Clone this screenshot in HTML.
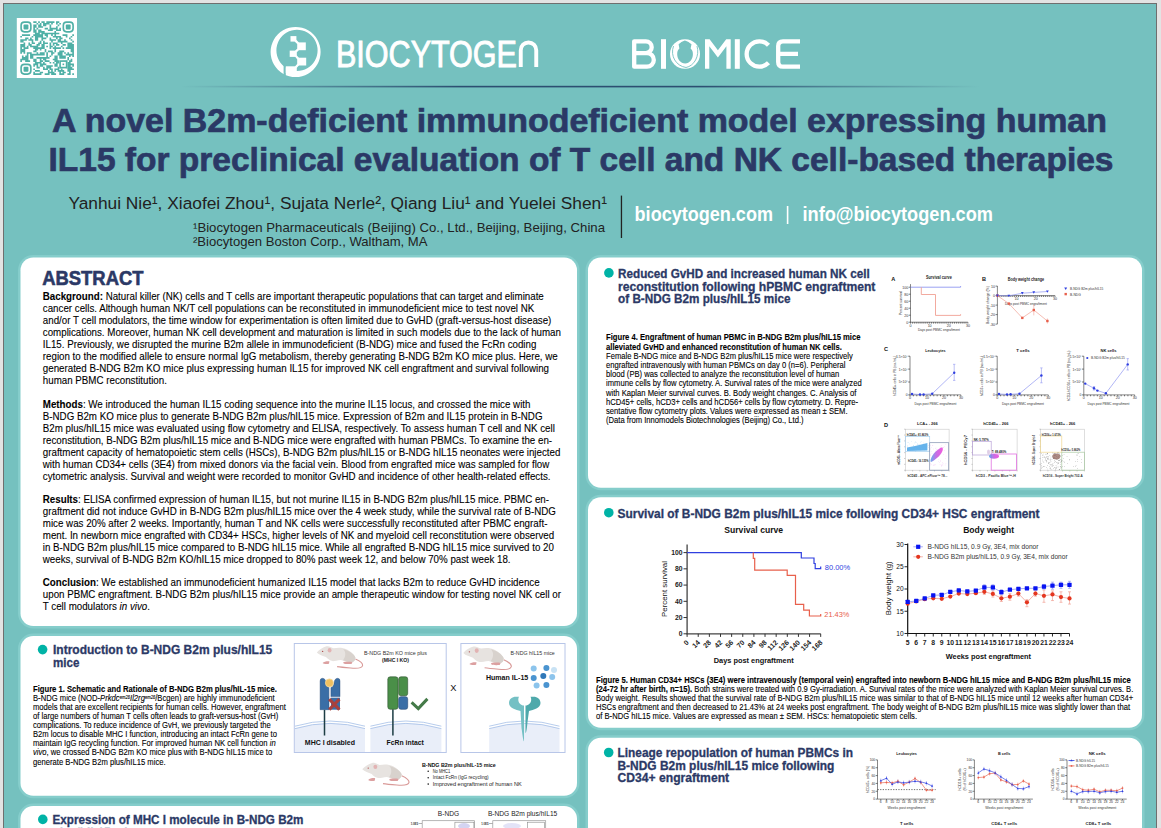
<!DOCTYPE html>
<html><head><meta charset="utf-8"><style>
html,body{margin:0;padding:0;background:#e3e3e3;width:1161px;height:828px;overflow:hidden}
svg{position:absolute;left:0;top:0;font-family:"Liberation Sans",sans-serif}
</style></head><body>
<svg width="1161" height="828" viewBox="0 0 1161 828">
<rect x="0" y="0" width="1161" height="828" fill="#e3e3e3"/>
<rect x="3" y="3" width="1154" height="900" fill="#6f6f6f"/>
<rect x="4" y="4" width="1152" height="900" fill="#75c1bf"/>
<rect x="18.0" y="254.89999999999998" width="561.5" height="373.6" rx="15.3" fill="#85cdcb"/>
<rect x="20.5" y="257.4" width="556.5" height="368.6" rx="12.8" fill="#fff"/>
<rect x="18.0" y="633.5" width="561.5" height="164.70000000000005" rx="15.3" fill="#85cdcb"/>
<rect x="20.5" y="636" width="556.5" height="159.70000000000005" rx="12.8" fill="#fff"/>
<rect x="18.0" y="803.5" width="561.5" height="99" rx="15.3" fill="#85cdcb"/>
<rect x="20.5" y="806" width="556.5" height="94" rx="12.8" fill="#fff"/>
<rect x="585.5" y="254.89999999999998" width="559" height="235.40000000000003" rx="15.3" fill="#85cdcb"/>
<rect x="588" y="257.4" width="554" height="230.40000000000003" rx="12.8" fill="#fff"/>
<rect x="585.5" y="494.7" width="559" height="235.59999999999997" rx="15.3" fill="#85cdcb"/>
<rect x="588" y="497.2" width="554" height="230.59999999999997" rx="12.8" fill="#fff"/>
<rect x="585.5" y="735.3" width="559" height="167.20000000000005" rx="15.3" fill="#85cdcb"/>
<rect x="588" y="737.8" width="554" height="162.20000000000005" rx="12.8" fill="#fff"/>
<rect x="16.8" y="18" width="60.2" height="60" fill="#fff"/>
<rect x="21.11" y="22.11" width="9.75" height="9.75" rx="3.25" fill="none" stroke="#4fb0a6" stroke-width="1.62"/>
<rect x="23.55" y="24.55" width="4.87" height="4.87" rx="0.97" fill="#4fb0a6"/>
<rect x="63.34" y="22.11" width="9.75" height="9.75" rx="3.25" fill="none" stroke="#4fb0a6" stroke-width="1.62"/>
<rect x="65.78" y="24.55" width="4.87" height="4.87" rx="0.97" fill="#4fb0a6"/>
<rect x="21.11" y="64.34" width="9.75" height="9.75" rx="3.25" fill="none" stroke="#4fb0a6" stroke-width="1.62"/>
<rect x="23.55" y="66.78" width="4.87" height="4.87" rx="0.97" fill="#4fb0a6"/>
<path d="M33.29 21.30h1.66v1.66h-1.66zM34.92 21.30h1.66v1.66h-1.66zM38.17 21.30h1.66v1.66h-1.66zM41.42 21.30h1.66v1.66h-1.66zM43.04 21.30h1.66v1.66h-1.66zM46.29 21.30h1.66v1.66h-1.66zM47.91 21.30h1.66v1.66h-1.66zM49.54 21.30h1.66v1.66h-1.66zM51.16 21.30h1.66v1.66h-1.66zM52.78 21.30h1.66v1.66h-1.66zM56.03 21.30h1.66v1.66h-1.66zM57.66 21.30h1.66v1.66h-1.66zM36.54 22.92h1.66v1.66h-1.66zM39.79 22.92h1.66v1.66h-1.66zM43.04 22.92h1.66v1.66h-1.66zM44.66 22.92h1.66v1.66h-1.66zM46.29 22.92h1.66v1.66h-1.66zM47.91 22.92h1.66v1.66h-1.66zM51.16 22.92h1.66v1.66h-1.66zM56.03 22.92h1.66v1.66h-1.66zM59.28 22.92h1.66v1.66h-1.66zM33.29 24.55h1.66v1.66h-1.66zM34.92 24.55h1.66v1.66h-1.66zM38.17 24.55h1.66v1.66h-1.66zM39.79 24.55h1.66v1.66h-1.66zM43.04 24.55h1.66v1.66h-1.66zM44.66 24.55h1.66v1.66h-1.66zM49.54 24.55h1.66v1.66h-1.66zM57.66 24.55h1.66v1.66h-1.66zM33.29 26.17h1.66v1.66h-1.66zM34.92 26.17h1.66v1.66h-1.66zM38.17 26.17h1.66v1.66h-1.66zM39.79 26.17h1.66v1.66h-1.66zM41.42 26.17h1.66v1.66h-1.66zM49.54 26.17h1.66v1.66h-1.66zM56.03 26.17h1.66v1.66h-1.66zM33.29 27.80h1.66v1.66h-1.66zM36.54 27.80h1.66v1.66h-1.66zM44.66 27.80h1.66v1.66h-1.66zM46.29 27.80h1.66v1.66h-1.66zM49.54 27.80h1.66v1.66h-1.66zM51.16 27.80h1.66v1.66h-1.66zM52.78 27.80h1.66v1.66h-1.66zM54.41 27.80h1.66v1.66h-1.66zM56.03 27.80h1.66v1.66h-1.66zM59.28 27.80h1.66v1.66h-1.66zM33.29 29.42h1.66v1.66h-1.66zM34.92 29.42h1.66v1.66h-1.66zM38.17 29.42h1.66v1.66h-1.66zM39.79 29.42h1.66v1.66h-1.66zM47.91 29.42h1.66v1.66h-1.66zM49.54 29.42h1.66v1.66h-1.66zM51.16 29.42h1.66v1.66h-1.66zM56.03 29.42h1.66v1.66h-1.66zM57.66 29.42h1.66v1.66h-1.66zM59.28 29.42h1.66v1.66h-1.66zM33.29 31.05h1.66v1.66h-1.66zM34.92 31.05h1.66v1.66h-1.66zM38.17 31.05h1.66v1.66h-1.66zM39.79 31.05h1.66v1.66h-1.66zM41.42 31.05h1.66v1.66h-1.66zM43.04 31.05h1.66v1.66h-1.66zM54.41 31.05h1.66v1.66h-1.66zM34.92 32.67h1.66v1.66h-1.66zM36.54 32.67h1.66v1.66h-1.66zM38.17 32.67h1.66v1.66h-1.66zM41.42 32.67h1.66v1.66h-1.66zM43.04 32.67h1.66v1.66h-1.66zM44.66 32.67h1.66v1.66h-1.66zM46.29 32.67h1.66v1.66h-1.66zM47.91 32.67h1.66v1.66h-1.66zM49.54 32.67h1.66v1.66h-1.66zM51.16 32.67h1.66v1.66h-1.66zM52.78 32.67h1.66v1.66h-1.66zM54.41 32.67h1.66v1.66h-1.66zM56.03 32.67h1.66v1.66h-1.66zM57.66 32.67h1.66v1.66h-1.66zM21.92 34.29h1.66v1.66h-1.66zM23.55 34.29h1.66v1.66h-1.66zM25.17 34.29h1.66v1.66h-1.66zM26.80 34.29h1.66v1.66h-1.66zM28.42 34.29h1.66v1.66h-1.66zM33.29 34.29h1.66v1.66h-1.66zM34.92 34.29h1.66v1.66h-1.66zM36.54 34.29h1.66v1.66h-1.66zM38.17 34.29h1.66v1.66h-1.66zM39.79 34.29h1.66v1.66h-1.66zM41.42 34.29h1.66v1.66h-1.66zM44.66 34.29h1.66v1.66h-1.66zM46.29 34.29h1.66v1.66h-1.66zM51.16 34.29h1.66v1.66h-1.66zM54.41 34.29h1.66v1.66h-1.66zM62.53 34.29h1.66v1.66h-1.66zM64.15 34.29h1.66v1.66h-1.66zM65.78 34.29h1.66v1.66h-1.66zM72.28 34.29h1.66v1.66h-1.66zM20.30 35.92h1.66v1.66h-1.66zM31.67 35.92h1.66v1.66h-1.66zM34.92 35.92h1.66v1.66h-1.66zM36.54 35.92h1.66v1.66h-1.66zM38.17 35.92h1.66v1.66h-1.66zM39.79 35.92h1.66v1.66h-1.66zM41.42 35.92h1.66v1.66h-1.66zM46.29 35.92h1.66v1.66h-1.66zM52.78 35.92h1.66v1.66h-1.66zM54.41 35.92h1.66v1.66h-1.66zM56.03 35.92h1.66v1.66h-1.66zM57.66 35.92h1.66v1.66h-1.66zM59.28 35.92h1.66v1.66h-1.66zM65.78 35.92h1.66v1.66h-1.66zM70.65 35.92h1.66v1.66h-1.66zM25.17 37.54h1.66v1.66h-1.66zM26.80 37.54h1.66v1.66h-1.66zM30.05 37.54h1.66v1.66h-1.66zM34.92 37.54h1.66v1.66h-1.66zM36.54 37.54h1.66v1.66h-1.66zM41.42 37.54h1.66v1.66h-1.66zM43.04 37.54h1.66v1.66h-1.66zM44.66 37.54h1.66v1.66h-1.66zM49.54 37.54h1.66v1.66h-1.66zM56.03 37.54h1.66v1.66h-1.66zM59.28 37.54h1.66v1.66h-1.66zM60.91 37.54h1.66v1.66h-1.66zM69.03 37.54h1.66v1.66h-1.66zM20.30 39.17h1.66v1.66h-1.66zM21.92 39.17h1.66v1.66h-1.66zM23.55 39.17h1.66v1.66h-1.66zM25.17 39.17h1.66v1.66h-1.66zM28.42 39.17h1.66v1.66h-1.66zM30.05 39.17h1.66v1.66h-1.66zM31.67 39.17h1.66v1.66h-1.66zM34.92 39.17h1.66v1.66h-1.66zM36.54 39.17h1.66v1.66h-1.66zM41.42 39.17h1.66v1.66h-1.66zM49.54 39.17h1.66v1.66h-1.66zM51.16 39.17h1.66v1.66h-1.66zM52.78 39.17h1.66v1.66h-1.66zM54.41 39.17h1.66v1.66h-1.66zM57.66 39.17h1.66v1.66h-1.66zM59.28 39.17h1.66v1.66h-1.66zM64.15 39.17h1.66v1.66h-1.66zM70.65 39.17h1.66v1.66h-1.66zM20.30 40.79h1.66v1.66h-1.66zM21.92 40.79h1.66v1.66h-1.66zM31.67 40.79h1.66v1.66h-1.66zM39.79 40.79h1.66v1.66h-1.66zM43.04 40.79h1.66v1.66h-1.66zM51.16 40.79h1.66v1.66h-1.66zM57.66 40.79h1.66v1.66h-1.66zM59.28 40.79h1.66v1.66h-1.66zM60.91 40.79h1.66v1.66h-1.66zM62.53 40.79h1.66v1.66h-1.66zM64.15 40.79h1.66v1.66h-1.66zM65.78 40.79h1.66v1.66h-1.66zM72.28 40.79h1.66v1.66h-1.66zM23.55 42.42h1.66v1.66h-1.66zM28.42 42.42h1.66v1.66h-1.66zM31.67 42.42h1.66v1.66h-1.66zM33.29 42.42h1.66v1.66h-1.66zM38.17 42.42h1.66v1.66h-1.66zM39.79 42.42h1.66v1.66h-1.66zM43.04 42.42h1.66v1.66h-1.66zM44.66 42.42h1.66v1.66h-1.66zM46.29 42.42h1.66v1.66h-1.66zM49.54 42.42h1.66v1.66h-1.66zM52.78 42.42h1.66v1.66h-1.66zM54.41 42.42h1.66v1.66h-1.66zM56.03 42.42h1.66v1.66h-1.66zM60.91 42.42h1.66v1.66h-1.66zM67.40 42.42h1.66v1.66h-1.66zM69.03 42.42h1.66v1.66h-1.66zM70.65 42.42h1.66v1.66h-1.66zM20.30 44.04h1.66v1.66h-1.66zM21.92 44.04h1.66v1.66h-1.66zM23.55 44.04h1.66v1.66h-1.66zM28.42 44.04h1.66v1.66h-1.66zM30.05 44.04h1.66v1.66h-1.66zM36.54 44.04h1.66v1.66h-1.66zM38.17 44.04h1.66v1.66h-1.66zM41.42 44.04h1.66v1.66h-1.66zM43.04 44.04h1.66v1.66h-1.66zM49.54 44.04h1.66v1.66h-1.66zM52.78 44.04h1.66v1.66h-1.66zM56.03 44.04h1.66v1.66h-1.66zM57.66 44.04h1.66v1.66h-1.66zM62.53 44.04h1.66v1.66h-1.66zM64.15 44.04h1.66v1.66h-1.66zM67.40 44.04h1.66v1.66h-1.66zM69.03 44.04h1.66v1.66h-1.66zM70.65 44.04h1.66v1.66h-1.66zM72.28 44.04h1.66v1.66h-1.66zM20.30 45.66h1.66v1.66h-1.66zM21.92 45.66h1.66v1.66h-1.66zM23.55 45.66h1.66v1.66h-1.66zM26.80 45.66h1.66v1.66h-1.66zM30.05 45.66h1.66v1.66h-1.66zM31.67 45.66h1.66v1.66h-1.66zM33.29 45.66h1.66v1.66h-1.66zM34.92 45.66h1.66v1.66h-1.66zM36.54 45.66h1.66v1.66h-1.66zM41.42 45.66h1.66v1.66h-1.66zM43.04 45.66h1.66v1.66h-1.66zM46.29 45.66h1.66v1.66h-1.66zM49.54 45.66h1.66v1.66h-1.66zM51.16 45.66h1.66v1.66h-1.66zM54.41 45.66h1.66v1.66h-1.66zM60.91 45.66h1.66v1.66h-1.66zM67.40 45.66h1.66v1.66h-1.66zM69.03 45.66h1.66v1.66h-1.66zM70.65 45.66h1.66v1.66h-1.66zM72.28 45.66h1.66v1.66h-1.66zM20.30 47.29h1.66v1.66h-1.66zM23.55 47.29h1.66v1.66h-1.66zM25.17 47.29h1.66v1.66h-1.66zM26.80 47.29h1.66v1.66h-1.66zM33.29 47.29h1.66v1.66h-1.66zM34.92 47.29h1.66v1.66h-1.66zM36.54 47.29h1.66v1.66h-1.66zM38.17 47.29h1.66v1.66h-1.66zM39.79 47.29h1.66v1.66h-1.66zM41.42 47.29h1.66v1.66h-1.66zM43.04 47.29h1.66v1.66h-1.66zM49.54 47.29h1.66v1.66h-1.66zM52.78 47.29h1.66v1.66h-1.66zM54.41 47.29h1.66v1.66h-1.66zM56.03 47.29h1.66v1.66h-1.66zM57.66 47.29h1.66v1.66h-1.66zM59.28 47.29h1.66v1.66h-1.66zM62.53 47.29h1.66v1.66h-1.66zM65.78 47.29h1.66v1.66h-1.66zM67.40 47.29h1.66v1.66h-1.66zM69.03 47.29h1.66v1.66h-1.66zM70.65 47.29h1.66v1.66h-1.66zM72.28 47.29h1.66v1.66h-1.66zM20.30 48.91h1.66v1.66h-1.66zM21.92 48.91h1.66v1.66h-1.66zM23.55 48.91h1.66v1.66h-1.66zM34.92 48.91h1.66v1.66h-1.66zM36.54 48.91h1.66v1.66h-1.66zM39.79 48.91h1.66v1.66h-1.66zM44.66 48.91h1.66v1.66h-1.66zM54.41 48.91h1.66v1.66h-1.66zM70.65 48.91h1.66v1.66h-1.66zM72.28 48.91h1.66v1.66h-1.66zM20.30 50.54h1.66v1.66h-1.66zM21.92 50.54h1.66v1.66h-1.66zM23.55 50.54h1.66v1.66h-1.66zM33.29 50.54h1.66v1.66h-1.66zM34.92 50.54h1.66v1.66h-1.66zM44.66 50.54h1.66v1.66h-1.66zM47.91 50.54h1.66v1.66h-1.66zM49.54 50.54h1.66v1.66h-1.66zM51.16 50.54h1.66v1.66h-1.66zM54.41 50.54h1.66v1.66h-1.66zM59.28 50.54h1.66v1.66h-1.66zM60.91 50.54h1.66v1.66h-1.66zM62.53 50.54h1.66v1.66h-1.66zM70.65 50.54h1.66v1.66h-1.66zM72.28 50.54h1.66v1.66h-1.66zM20.30 52.16h1.66v1.66h-1.66zM23.55 52.16h1.66v1.66h-1.66zM26.80 52.16h1.66v1.66h-1.66zM28.42 52.16h1.66v1.66h-1.66zM30.05 52.16h1.66v1.66h-1.66zM36.54 52.16h1.66v1.66h-1.66zM39.79 52.16h1.66v1.66h-1.66zM41.42 52.16h1.66v1.66h-1.66zM43.04 52.16h1.66v1.66h-1.66zM46.29 52.16h1.66v1.66h-1.66zM51.16 52.16h1.66v1.66h-1.66zM52.78 52.16h1.66v1.66h-1.66zM57.66 52.16h1.66v1.66h-1.66zM59.28 52.16h1.66v1.66h-1.66zM60.91 52.16h1.66v1.66h-1.66zM64.15 52.16h1.66v1.66h-1.66zM67.40 52.16h1.66v1.66h-1.66zM72.28 52.16h1.66v1.66h-1.66zM26.80 53.78h1.66v1.66h-1.66zM30.05 53.78h1.66v1.66h-1.66zM31.67 53.78h1.66v1.66h-1.66zM33.29 53.78h1.66v1.66h-1.66zM34.92 53.78h1.66v1.66h-1.66zM36.54 53.78h1.66v1.66h-1.66zM38.17 53.78h1.66v1.66h-1.66zM39.79 53.78h1.66v1.66h-1.66zM41.42 53.78h1.66v1.66h-1.66zM43.04 53.78h1.66v1.66h-1.66zM46.29 53.78h1.66v1.66h-1.66zM51.16 53.78h1.66v1.66h-1.66zM57.66 53.78h1.66v1.66h-1.66zM59.28 53.78h1.66v1.66h-1.66zM60.91 53.78h1.66v1.66h-1.66zM65.78 53.78h1.66v1.66h-1.66zM67.40 53.78h1.66v1.66h-1.66zM69.03 53.78h1.66v1.66h-1.66zM70.65 53.78h1.66v1.66h-1.66zM72.28 53.78h1.66v1.66h-1.66zM21.92 55.41h1.66v1.66h-1.66zM25.17 55.41h1.66v1.66h-1.66zM26.80 55.41h1.66v1.66h-1.66zM30.05 55.41h1.66v1.66h-1.66zM31.67 55.41h1.66v1.66h-1.66zM46.29 55.41h1.66v1.66h-1.66zM49.54 55.41h1.66v1.66h-1.66zM54.41 55.41h1.66v1.66h-1.66zM56.03 55.41h1.66v1.66h-1.66zM59.28 55.41h1.66v1.66h-1.66zM60.91 55.41h1.66v1.66h-1.66zM62.53 55.41h1.66v1.66h-1.66zM64.15 55.41h1.66v1.66h-1.66zM69.03 55.41h1.66v1.66h-1.66zM72.28 55.41h1.66v1.66h-1.66zM21.92 57.03h1.66v1.66h-1.66zM23.55 57.03h1.66v1.66h-1.66zM25.17 57.03h1.66v1.66h-1.66zM26.80 57.03h1.66v1.66h-1.66zM30.05 57.03h1.66v1.66h-1.66zM31.67 57.03h1.66v1.66h-1.66zM36.54 57.03h1.66v1.66h-1.66zM38.17 57.03h1.66v1.66h-1.66zM39.79 57.03h1.66v1.66h-1.66zM41.42 57.03h1.66v1.66h-1.66zM43.04 57.03h1.66v1.66h-1.66zM44.66 57.03h1.66v1.66h-1.66zM46.29 57.03h1.66v1.66h-1.66zM47.91 57.03h1.66v1.66h-1.66zM54.41 57.03h1.66v1.66h-1.66zM56.03 57.03h1.66v1.66h-1.66zM59.28 57.03h1.66v1.66h-1.66zM60.91 57.03h1.66v1.66h-1.66zM62.53 57.03h1.66v1.66h-1.66zM64.15 57.03h1.66v1.66h-1.66zM67.40 57.03h1.66v1.66h-1.66zM20.30 58.66h1.66v1.66h-1.66zM21.92 58.66h1.66v1.66h-1.66zM23.55 58.66h1.66v1.66h-1.66zM25.17 58.66h1.66v1.66h-1.66zM26.80 58.66h1.66v1.66h-1.66zM33.29 58.66h1.66v1.66h-1.66zM34.92 58.66h1.66v1.66h-1.66zM39.79 58.66h1.66v1.66h-1.66zM43.04 58.66h1.66v1.66h-1.66zM44.66 58.66h1.66v1.66h-1.66zM52.78 58.66h1.66v1.66h-1.66zM54.41 58.66h1.66v1.66h-1.66zM56.03 58.66h1.66v1.66h-1.66zM67.40 58.66h1.66v1.66h-1.66zM70.65 58.66h1.66v1.66h-1.66zM20.30 60.28h1.66v1.66h-1.66zM25.17 60.28h1.66v1.66h-1.66zM26.80 60.28h1.66v1.66h-1.66zM28.42 60.28h1.66v1.66h-1.66zM33.29 60.28h1.66v1.66h-1.66zM34.92 60.28h1.66v1.66h-1.66zM39.79 60.28h1.66v1.66h-1.66zM41.42 60.28h1.66v1.66h-1.66zM44.66 60.28h1.66v1.66h-1.66zM46.29 60.28h1.66v1.66h-1.66zM47.91 60.28h1.66v1.66h-1.66zM54.41 60.28h1.66v1.66h-1.66zM56.03 60.28h1.66v1.66h-1.66zM57.66 60.28h1.66v1.66h-1.66zM62.53 60.28h1.66v1.66h-1.66zM64.15 60.28h1.66v1.66h-1.66zM65.78 60.28h1.66v1.66h-1.66zM69.03 60.28h1.66v1.66h-1.66zM70.65 60.28h1.66v1.66h-1.66zM34.92 61.91h1.66v1.66h-1.66zM36.54 61.91h1.66v1.66h-1.66zM38.17 61.91h1.66v1.66h-1.66zM39.79 61.91h1.66v1.66h-1.66zM43.04 61.91h1.66v1.66h-1.66zM49.54 61.91h1.66v1.66h-1.66zM52.78 61.91h1.66v1.66h-1.66zM56.03 61.91h1.66v1.66h-1.66zM57.66 61.91h1.66v1.66h-1.66zM60.91 61.91h1.66v1.66h-1.66zM64.15 61.91h1.66v1.66h-1.66zM65.78 61.91h1.66v1.66h-1.66zM67.40 61.91h1.66v1.66h-1.66zM69.03 61.91h1.66v1.66h-1.66zM33.29 63.53h1.66v1.66h-1.66zM34.92 63.53h1.66v1.66h-1.66zM36.54 63.53h1.66v1.66h-1.66zM39.79 63.53h1.66v1.66h-1.66zM41.42 63.53h1.66v1.66h-1.66zM43.04 63.53h1.66v1.66h-1.66zM44.66 63.53h1.66v1.66h-1.66zM54.41 63.53h1.66v1.66h-1.66zM56.03 63.53h1.66v1.66h-1.66zM60.91 63.53h1.66v1.66h-1.66zM64.15 63.53h1.66v1.66h-1.66zM65.78 63.53h1.66v1.66h-1.66zM67.40 63.53h1.66v1.66h-1.66zM69.03 63.53h1.66v1.66h-1.66zM70.65 63.53h1.66v1.66h-1.66zM72.28 63.53h1.66v1.66h-1.66zM33.29 65.15h1.66v1.66h-1.66zM36.54 65.15h1.66v1.66h-1.66zM39.79 65.15h1.66v1.66h-1.66zM41.42 65.15h1.66v1.66h-1.66zM46.29 65.15h1.66v1.66h-1.66zM47.91 65.15h1.66v1.66h-1.66zM49.54 65.15h1.66v1.66h-1.66zM51.16 65.15h1.66v1.66h-1.66zM54.41 65.15h1.66v1.66h-1.66zM56.03 65.15h1.66v1.66h-1.66zM59.28 65.15h1.66v1.66h-1.66zM60.91 65.15h1.66v1.66h-1.66zM65.78 65.15h1.66v1.66h-1.66zM67.40 65.15h1.66v1.66h-1.66zM69.03 65.15h1.66v1.66h-1.66zM72.28 65.15h1.66v1.66h-1.66zM36.54 66.78h1.66v1.66h-1.66zM38.17 66.78h1.66v1.66h-1.66zM43.04 66.78h1.66v1.66h-1.66zM46.29 66.78h1.66v1.66h-1.66zM47.91 66.78h1.66v1.66h-1.66zM49.54 66.78h1.66v1.66h-1.66zM57.66 66.78h1.66v1.66h-1.66zM59.28 66.78h1.66v1.66h-1.66zM60.91 66.78h1.66v1.66h-1.66zM65.78 66.78h1.66v1.66h-1.66zM67.40 66.78h1.66v1.66h-1.66zM69.03 66.78h1.66v1.66h-1.66zM70.65 66.78h1.66v1.66h-1.66zM33.29 68.40h1.66v1.66h-1.66zM43.04 68.40h1.66v1.66h-1.66zM44.66 68.40h1.66v1.66h-1.66zM46.29 68.40h1.66v1.66h-1.66zM49.54 68.40h1.66v1.66h-1.66zM51.16 68.40h1.66v1.66h-1.66zM54.41 68.40h1.66v1.66h-1.66zM56.03 68.40h1.66v1.66h-1.66zM57.66 68.40h1.66v1.66h-1.66zM60.91 68.40h1.66v1.66h-1.66zM67.40 68.40h1.66v1.66h-1.66zM69.03 68.40h1.66v1.66h-1.66zM70.65 68.40h1.66v1.66h-1.66zM72.28 68.40h1.66v1.66h-1.66zM34.92 70.03h1.66v1.66h-1.66zM36.54 70.03h1.66v1.66h-1.66zM38.17 70.03h1.66v1.66h-1.66zM47.91 70.03h1.66v1.66h-1.66zM51.16 70.03h1.66v1.66h-1.66zM54.41 70.03h1.66v1.66h-1.66zM57.66 70.03h1.66v1.66h-1.66zM59.28 70.03h1.66v1.66h-1.66zM60.91 70.03h1.66v1.66h-1.66zM62.53 70.03h1.66v1.66h-1.66zM67.40 70.03h1.66v1.66h-1.66zM69.03 70.03h1.66v1.66h-1.66zM33.29 71.65h1.66v1.66h-1.66zM39.79 71.65h1.66v1.66h-1.66zM41.42 71.65h1.66v1.66h-1.66zM47.91 71.65h1.66v1.66h-1.66zM49.54 71.65h1.66v1.66h-1.66zM51.16 71.65h1.66v1.66h-1.66zM52.78 71.65h1.66v1.66h-1.66zM59.28 71.65h1.66v1.66h-1.66zM62.53 71.65h1.66v1.66h-1.66zM64.15 71.65h1.66v1.66h-1.66zM69.03 71.65h1.66v1.66h-1.66zM33.29 73.28h1.66v1.66h-1.66zM34.92 73.28h1.66v1.66h-1.66zM36.54 73.28h1.66v1.66h-1.66zM38.17 73.28h1.66v1.66h-1.66zM39.79 73.28h1.66v1.66h-1.66zM44.66 73.28h1.66v1.66h-1.66zM46.29 73.28h1.66v1.66h-1.66zM47.91 73.28h1.66v1.66h-1.66zM51.16 73.28h1.66v1.66h-1.66zM52.78 73.28h1.66v1.66h-1.66zM54.41 73.28h1.66v1.66h-1.66zM59.28 73.28h1.66v1.66h-1.66zM60.91 73.28h1.66v1.66h-1.66zM62.53 73.28h1.66v1.66h-1.66zM67.40 73.28h1.66v1.66h-1.66zM69.03 73.28h1.66v1.66h-1.66zM72.28 73.28h1.66v1.66h-1.66z" fill="#4fb0a6"/>
<rect x="59.28" y="60.28" width="8.12" height="8.12" fill="#fff"/>
<rect x="60.09" y="61.09" width="6.50" height="6.50" fill="none" stroke="#4fb0a6" stroke-width="1.62"/>
<rect x="62.53" y="63.53" width="1.62" height="1.62" fill="#4fb0a6"/>
<path fill-rule="evenodd" fill="#fff" d="M295.6,27 a25,25 0 1 0 0.001,0 Z M297,29.8 a20.6,20.6 0 1 1 -0.001,0 Z"/>
<rect x="283.6" y="65" width="2.2" height="10.5" fill="#75c1bf"/>
<rect x="290.5" y="36.1" width="5.90" height="5.50" fill="#fff"/>
<rect x="297.2" y="42.4" width="8.60" height="7.80" fill="#fff"/>
<rect x="289.7" y="50.6" width="7.10" height="6.30" fill="#fff"/>
<rect x="297.2" y="57.7" width="9.00" height="7.80" fill="#fff"/>
<rect x="285.8" y="66.3" width="11.00" height="6.70" fill="#fff"/>
<path d="M295.4,40.6 L298.2,43.4 M298.2,49.2 L295.8,51.6 M295.8,55.9 L298.2,58.7 M298.2,64.5 L295.8,67.3" stroke="#fff" stroke-width="2.2"/>
<text x="336" y="66.7" font-size="36" fill="#fff" stroke="#fff" stroke-width="0.9" textLength="181" lengthAdjust="spacingAndGlyphs">BIOCYTOGE</text>
<path d="M520.75,67 V50.2 A7.75,7.75 0 0 1 536.25,50.2 V67" fill="none" stroke="#fff" stroke-width="3.9"/>
<path stroke="#fff" stroke-width="4.3" fill="none" d="M634.2,66.7 V41.3 H645.8 A5.9,5.9 0 0 1 645.8,53.1 H634.2 M634.2,53.1 H647 A6.8,6.8 0 0 1 647,66.7 H634.2 Z" stroke-linejoin="round"/>
<rect x="661" y="39.2" width="5" height="29.6" fill="#fff"/>
<ellipse cx="685" cy="54" rx="15" ry="14.8" fill="#fff"/>
<path fill="#75c1bf" d="M684.9,40.4 C682.3,41.2 680.3,42.6 678.6,44.3 L679.4,48.6 C677.6,50.2 677.2,52 677.2,54.2 C677.2,59.3 680.6,63.2 685.2,63.4 C689.6,63.2 692.9,59.3 692.9,54.2 C692.9,52 692.4,50.2 690.6,48.6 L691.5,44.3 C689.7,42.6 687.6,41.2 684.9,40.4 Z"/>
<path fill="none" stroke="#75c1bf" stroke-width="0.9" d="M673.5,46 C670,56 676,66 686,67.5 M697,46 C700,56 694,66 686,67.5"/>
<path fill="#fff" d="M705,68.8 V39.2 H709.6 L717.9,50.2 L726.2,39.2 H730.7 V68.8 H726.4 V46.3 L717.9,57.4 L709.3,46.3 V68.8 Z"/>
<rect x="734.8" y="39.2" width="5" height="29.6" fill="#fff"/>
<path stroke="#fff" stroke-width="4.3" fill="none" d="M768.5,45.2 A12.7,12.7 0 1 0 768.5,62.8"/>
<path stroke="#fff" stroke-width="4.3" fill="none" d="M800,41.3 H783 Q778.2,41.3 778.2,46 V62 Q778.2,66.7 783,66.7 H800 M778.2,53.9 H798"/>
<defs><linearGradient id="hl" x1="0" x2="1" y1="0" y2="0"><stop offset="0" stop-color="#244268" stop-opacity="0"/><stop offset="0.35" stop-color="#244268" stop-opacity="0.9"/><stop offset="0.65" stop-color="#244268" stop-opacity="0.9"/><stop offset="1" stop-color="#244268" stop-opacity="0"/></linearGradient></defs>
<rect x="180" y="85.8" width="800" height="1.6" fill="url(#hl)"/>
<text x="52" y="132" font-size="33.6" font-weight="700" fill="#2b3966" textLength="1055" lengthAdjust="spacingAndGlyphs" stroke="#2b3966" stroke-width="0.7">A novel B2m-deficient immunodeficient model expressing human</text>
<text x="48.5" y="170.8" font-size="33.6" font-weight="700" fill="#2b3966" textLength="1065" lengthAdjust="spacingAndGlyphs" stroke="#2b3966" stroke-width="0.7">IL15 for preclinical evaluation of T cell and NK cell-based therapies</text>
<text x="68.4" y="208.6" font-size="16.8" fill="#222" textLength="538.6" lengthAdjust="spacingAndGlyphs">Yanhui Nie¹, Xiaofei Zhou¹, Sujata Nerle², Qiang Liu¹ and Yuelei Shen¹</text>
<text x="193" y="232" font-size="12.6" fill="#222" textLength="412" lengthAdjust="spacingAndGlyphs">¹Biocytogen Pharmaceuticals (Beijing) Co., Ltd., Beijing, Beijing, China</text>
<text x="193" y="245.8" font-size="12.6" fill="#222" textLength="234.5" lengthAdjust="spacingAndGlyphs">²Biocytogen Boston Corp., Waltham, MA</text>
<rect x="620.8" y="195.6" width="1.3" height="42.4" fill="#222"/>
<text x="634.6" y="221" font-size="20" font-weight="700" fill="#fff" textLength="138.4" lengthAdjust="spacingAndGlyphs">biocytogen.com</text>
<rect x="786.8" y="206" width="1.6" height="18" fill="#fff"/>
<text x="802.5" y="221" font-size="20" font-weight="700" fill="#fff" textLength="190.5" lengthAdjust="spacingAndGlyphs">info@biocytogen.com</text>
<text x="42.2" y="284.7" font-size="20.2" font-weight="700" fill="#2b3966" textLength="101.3" lengthAdjust="spacingAndGlyphs" stroke="#2b3966" stroke-width="0.6">ABSTRACT</text>
<text transform="translate(42.8 299.60) scale(0.93 1)" font-size="10.505" fill="#000" stroke="#000" stroke-width="0.1"><tspan font-weight="700">Background:</tspan> Natural killer (NK) cells and T cells are important therapeutic populations that can target and eliminate</text>
<text transform="translate(42.8 311.65) scale(0.93 1)" font-size="10.505" fill="#000" stroke="#000" stroke-width="0.1">cancer cells. Although human NK/T cell populations can be reconstituted in immunodeficient mice to test novel NK</text>
<text transform="translate(42.8 323.70) scale(0.93 1)" font-size="10.505" fill="#000" stroke="#000" stroke-width="0.1">and/or T cell modulators, the time window for experimentation is often limited due to GvHD (graft-versus-host disease)</text>
<text transform="translate(42.8 335.75) scale(0.93 1)" font-size="10.505" fill="#000" stroke="#000" stroke-width="0.1">complications. Moreover, human NK cell development and maturation is limited in such models due to the lack of human</text>
<text transform="translate(42.8 347.80) scale(0.93 1)" font-size="10.505" fill="#000" stroke="#000" stroke-width="0.1">IL15. Previously, we disrupted the murine B2m allele in immunodeficient (B-NDG) mice and fused the FcRn coding</text>
<text transform="translate(42.8 359.85) scale(0.93 1)" font-size="10.505" fill="#000" stroke="#000" stroke-width="0.1">region to the modified allele to ensure normal IgG metabolism, thereby generating B-NDG B2m KO mice plus. Here, we</text>
<text transform="translate(42.8 371.90) scale(0.93 1)" font-size="10.505" fill="#000" stroke="#000" stroke-width="0.1">generated B-NDG B2m KO mice plus expressing human IL15 for improved NK cell engraftment and survival following</text>
<text transform="translate(42.8 383.95) scale(0.93 1)" font-size="10.505" fill="#000" stroke="#000" stroke-width="0.1">human PBMC reconstitution.</text>
<text transform="translate(42.8 408.10) scale(0.93 1)" font-size="10.505" fill="#000" stroke="#000" stroke-width="0.1"><tspan font-weight="700">Methods</tspan>: We introduced the human IL15 coding sequence into the murine IL15 locus, and crossed the mice with</text>
<text transform="translate(42.8 420.15) scale(0.93 1)" font-size="10.505" fill="#000" stroke="#000" stroke-width="0.1">B-NDG B2m KO mice plus to generate B-NDG B2m plus/hIL15 mice. Expression of B2m and IL15 protein in B-NDG</text>
<text transform="translate(42.8 432.20) scale(0.93 1)" font-size="10.505" fill="#000" stroke="#000" stroke-width="0.1">B2m plus/hIL15 mice was evaluated using flow cytometry and ELISA, respectively. To assess human T cell and NK cell</text>
<text transform="translate(42.8 444.25) scale(0.93 1)" font-size="10.505" fill="#000" stroke="#000" stroke-width="0.1">reconstitution, B-NDG B2m plus/hIL15 mice and B-NDG mice were engrafted with human PBMCs. To examine the en-</text>
<text transform="translate(42.8 456.30) scale(0.93 1)" font-size="10.505" fill="#000" stroke="#000" stroke-width="0.1">graftment capacity of hematopoietic stem cells (HSCs), B-NDG B2m plus/hIL15 or B-NDG hIL15 neonates were injected</text>
<text transform="translate(42.8 468.35) scale(0.93 1)" font-size="10.505" fill="#000" stroke="#000" stroke-width="0.1">with human CD34+ cells (3E4) from mixed donors via the facial vein. Blood from engrafted mice was sampled for flow</text>
<text transform="translate(42.8 480.40) scale(0.93 1)" font-size="10.505" fill="#000" stroke="#000" stroke-width="0.1">cytometric analysis. Survival and weight were recorded to monitor GvHD and incidence of other health-related effects.</text>
<text transform="translate(42.8 503.10) scale(0.93 1)" font-size="10.505" fill="#000" stroke="#000" stroke-width="0.1"><tspan font-weight="700">Results</tspan>: ELISA confirmed expression of human IL15, but not murine IL15 in B-NDG B2m plus/hIL15 mice. PBMC en-</text>
<text transform="translate(42.8 515.15) scale(0.93 1)" font-size="10.505" fill="#000" stroke="#000" stroke-width="0.1">graftment did not induce GvHD in B-NDG B2m plus/hIL15 mice over the 4 week study, while the survival rate of B-NDG</text>
<text transform="translate(42.8 527.20) scale(0.93 1)" font-size="10.505" fill="#000" stroke="#000" stroke-width="0.1">mice was 20% after 2 weeks. Importantly, human T and NK cells were successfully reconstituted after PBMC engraft-</text>
<text transform="translate(42.8 539.25) scale(0.93 1)" font-size="10.505" fill="#000" stroke="#000" stroke-width="0.1">ment. In newborn mice engrafted with CD34+ HSCs, higher levels of NK and myeloid cell reconstitution were observed</text>
<text transform="translate(42.8 551.30) scale(0.93 1)" font-size="10.505" fill="#000" stroke="#000" stroke-width="0.1">in B-NDG B2m plus/hIL15 mice compared to B-NDG hIL15 mice. While all engrafted B-NDG hIL15 mice survived to 20</text>
<text transform="translate(42.8 563.35) scale(0.93 1)" font-size="10.505" fill="#000" stroke="#000" stroke-width="0.1">weeks, survival of B-NDG B2m KO/hIL15 mice dropped to 80% past week 12, and below 70% past week 18.</text>
<text transform="translate(42.8 586.00) scale(0.93 1)" font-size="10.505" fill="#000" stroke="#000" stroke-width="0.1"><tspan font-weight="700">Conclusion</tspan>: We established an immunodeficient humanized IL15 model that lacks B2m to reduce GvHD incidence</text>
<text transform="translate(42.8 598.05) scale(0.93 1)" font-size="10.505" fill="#000" stroke="#000" stroke-width="0.1">upon PBMC engraftment. B-NDG B2m plus/hIL15 mice provide an ample therapeutic window for testing novel NK cell or</text>
<text transform="translate(42.8 610.10) scale(0.93 1)" font-size="10.505" fill="#000" stroke="#000" stroke-width="0.1">T cell modulators <tspan font-style="italic">in vivo</tspan>.</text>
<circle cx="42.6" cy="649.6" r="4.8" fill="#00b3a6"/>
<text x="53" y="654.2" font-size="12.3" font-weight="700" fill="#2b3966" textLength="219.3" lengthAdjust="spacingAndGlyphs" stroke="#2b3966" stroke-width="0.3">Introduction to B-NDG B2m plus/hIL15</text>
<text x="53" y="667" font-size="12.3" font-weight="700" fill="#2b3966" textLength="26.4" lengthAdjust="spacingAndGlyphs" stroke="#2b3966" stroke-width="0.3">mice</text>
<text transform="translate(33 691.50) scale(0.92 1)" font-size="8.326" fill="#000" stroke="#000" stroke-width="0.1"><tspan font-weight="700">Figure 1. Schematic and Rationale of B-NDG B2m plus/hIL-15 mice.</tspan></text>
<text transform="translate(33 700.64) scale(0.92 1)" font-size="8.326" fill="#000" stroke="#000" stroke-width="0.1">B-NDG mice (NOD-<tspan font-style="italic">Prkdc<tspan font-size="4.5" dy="-2">em26</tspan><tspan dy="2">Il2rg</tspan><tspan font-size="4.5" dy="-2">em26</tspan></tspan><tspan dy="2">/Bcgen) are highly immunodeficient</tspan></text>
<text transform="translate(33 709.78) scale(0.92 1)" font-size="8.326" fill="#000" stroke="#000" stroke-width="0.1">models that are excellent recipients for human cells. However, engraftment</text>
<text transform="translate(33 718.92) scale(0.92 1)" font-size="8.326" fill="#000" stroke="#000" stroke-width="0.1">of large numbers of human T cells often leads to graft-versus-host (GvH)</text>
<text transform="translate(33 728.06) scale(0.92 1)" font-size="8.326" fill="#000" stroke="#000" stroke-width="0.1">complications. To reduce incidence of GvH, we previously targeted the</text>
<text transform="translate(33 737.20) scale(0.92 1)" font-size="8.326" fill="#000" stroke="#000" stroke-width="0.1">B2m locus to disable MHC I function, introducing an intact FcRn gene to</text>
<text transform="translate(33 746.34) scale(0.92 1)" font-size="8.326" fill="#000" stroke="#000" stroke-width="0.1">maintain IgG recycling function. For improved human NK cell function <tspan font-style="italic">in</tspan></text>
<text transform="translate(33 755.48) scale(0.92 1)" font-size="8.326" fill="#000" stroke="#000" stroke-width="0.1"><tspan font-style="italic">vivo</tspan>, we crossed B-NDG B2m KO mice plus with B-NDG hIL15 mice to</text>
<text transform="translate(33 764.62) scale(0.92 1)" font-size="8.326" fill="#000" stroke="#000" stroke-width="0.1">generate B-NDG B2m plus/hIL15 mice.</text>
<circle cx="42.8" cy="819.4" r="4.8" fill="#00b3a6"/>
<text x="52.5" y="823.6" font-size="12.3" font-weight="700" fill="#2b3966" textLength="251" lengthAdjust="spacingAndGlyphs" stroke="#2b3966" stroke-width="0.3">Expression of MHC I molecule in B-NDG B2m</text>
<text x="52.5" y="837.2" font-size="12.3" font-weight="700" fill="#2b3966" textLength="88" lengthAdjust="spacingAndGlyphs" stroke="#2b3966" stroke-width="0.3">plus/hIL15 mice</text>
<circle cx="608.9" cy="272.9" r="4.8" fill="#00b3a6"/>
<text x="618.1" y="278.4" font-size="12.3" font-weight="700" fill="#2b3966" textLength="251.6" lengthAdjust="spacingAndGlyphs" stroke="#2b3966" stroke-width="0.3">Reduced GvHD and increased human NK cell</text>
<text x="618.1" y="290.6" font-size="12.3" font-weight="700" fill="#2b3966" textLength="257.3" lengthAdjust="spacingAndGlyphs" stroke="#2b3966" stroke-width="0.3">reconstitution following hPBMC engraftment</text>
<text x="618.1" y="303" font-size="12.3" font-weight="700" fill="#2b3966" textLength="172.4" lengthAdjust="spacingAndGlyphs" stroke="#2b3966" stroke-width="0.3">of B-NDG B2m plus/hIL15 mice</text>
<text transform="translate(606 340.30) scale(0.92 1)" font-size="8.326" fill="#000" stroke="#000" stroke-width="0.1"><tspan font-weight="700">Figure 4. Engraftment of human PBMC in B-NDG B2m plus/hIL15 mice</tspan></text>
<text transform="translate(606 349.50) scale(0.92 1)" font-size="8.326" fill="#000" stroke="#000" stroke-width="0.1"><tspan font-weight="700">alleviated GvHD and enhanced reconstitution of human NK cells.</tspan></text>
<text transform="translate(606 358.70) scale(0.92 1)" font-size="8.326" fill="#000" stroke="#000" stroke-width="0.1">Female B-NDG mice and B-NDG B2m plus/hIL15 mice were respectively</text>
<text transform="translate(606 367.90) scale(0.92 1)" font-size="8.326" fill="#000" stroke="#000" stroke-width="0.1">engrafted intravenously with human PBMCs on day 0 (n=6). Peripheral</text>
<text transform="translate(606 377.10) scale(0.92 1)" font-size="8.326" fill="#000" stroke="#000" stroke-width="0.1">blood (PB) was collected to analyze the reconstitution level of human</text>
<text transform="translate(606 386.30) scale(0.92 1)" font-size="8.326" fill="#000" stroke="#000" stroke-width="0.1">immune cells by flow cytometry. A. Survival rates of the mice were analyzed</text>
<text transform="translate(606 395.50) scale(0.92 1)" font-size="8.326" fill="#000" stroke="#000" stroke-width="0.1">with Kaplan Meier survival curves. B. Body weight changes. C. Analysis of</text>
<text transform="translate(606 404.70) scale(0.92 1)" font-size="8.326" fill="#000" stroke="#000" stroke-width="0.1">hCD45+ cells, hCD3+ cells and hCD56+ cells by flow cytometry. D. Repre-</text>
<text transform="translate(606 413.90) scale(0.92 1)" font-size="8.326" fill="#000" stroke="#000" stroke-width="0.1">sentative flow cytometry plots. Values were expressed as mean ± SEM.</text>
<text transform="translate(606 423.10) scale(0.92 1)" font-size="8.326" fill="#000" stroke="#000" stroke-width="0.1">(Data from Innomodels Biotechnologies (Beijing) Co., Ltd.)</text>
<circle cx="608.8" cy="512.7" r="4.8" fill="#00b3a6"/>
<text x="617.6" y="517.8" font-size="12.3" font-weight="700" fill="#2b3966" textLength="422" lengthAdjust="spacingAndGlyphs" stroke="#2b3966" stroke-width="0.3">Survival of B-NDG B2m plus/hIL15 mice following CD34+ HSC engraftment</text>
<text transform="translate(596 682.60) scale(0.92 1)" font-size="8.326" fill="#000" stroke="#000" stroke-width="0.1"><tspan font-weight="700">Figure 5. Human CD34+ HSCs (3E4) were intravenously (temporal vein) engrafted into newborn B-NDG hIL15 mice and B-NDG B2m plus/hIL15 mice</tspan></text>
<text transform="translate(596 691.72) scale(0.92 1)" font-size="8.326" fill="#000" stroke="#000" stroke-width="0.1"><tspan font-weight="700">(24-72 hr after birth, n=15).</tspan> Both strains were treated with 0.9 Gy-irradiation. A. Survival rates of the mice were analyzed with Kaplan Meier survival curves. B.</text>
<text transform="translate(596 700.84) scale(0.92 1)" font-size="8.326" fill="#000" stroke="#000" stroke-width="0.1">Body weight. Results showed that the survival rate of B-NDG B2m plus/hIL15 mice was similar to that of B-NDG hIL15 mice until 12 weeks after human CD34+</text>
<text transform="translate(596 709.96) scale(0.92 1)" font-size="8.326" fill="#000" stroke="#000" stroke-width="0.1">HSCs engraftment and then decreased to 21.43% at 24 weeks post engraftment. The body weight of B-NDG B2m plus/hIL15 mice was slightly lower than that</text>
<text transform="translate(596 719.08) scale(0.92 1)" font-size="8.326" fill="#000" stroke="#000" stroke-width="0.1">of B-NDG hIL15 mice. Values are expressed as mean ± SEM. HSCs: hematopoietic stem cells.</text>
<circle cx="608.7" cy="752.5" r="4.8" fill="#00b3a6"/>
<text x="617.5" y="756.7" font-size="12.3" font-weight="700" fill="#2b3966" textLength="235.5" lengthAdjust="spacingAndGlyphs" stroke="#2b3966" stroke-width="0.3">Lineage repopulation of human PBMCs in</text>
<text x="617.5" y="769.6" font-size="12.3" font-weight="700" fill="#2b3966" textLength="216.8" lengthAdjust="spacingAndGlyphs" stroke="#2b3966" stroke-width="0.3">B-NDG B2m plus/hIL15 mice following</text>
<text x="617.5" y="781.8" font-size="12.3" font-weight="700" fill="#2b3966" textLength="111.6" lengthAdjust="spacingAndGlyphs" stroke="#2b3966" stroke-width="0.3">CD34+ engraftment</text>
<text x="753.7" y="532.9" font-size="9.2" font-weight="700" fill="#111" textLength="58.9" lengthAdjust="spacingAndGlyphs" text-anchor="middle">Survival curve</text>
<path d="M687.1,544.5 V633.8 H820.7" fill="none" stroke="#444" stroke-width="1.3"/>
<path d="M683.5,633.80H687.1M683.5,617.56H687.1M683.5,601.32H687.1M683.5,585.08H687.1M683.5,568.84H687.1M683.5,552.60H687.1M687.10,633.8V636.9M698.23,633.8V636.9M709.37,633.8V636.9M720.50,633.8V636.9M731.63,633.8V636.9M742.77,633.8V636.9M753.90,633.8V636.9M765.03,633.8V636.9M776.17,633.8V636.9M787.30,633.8V636.9M798.43,633.8V636.9M809.57,633.8V636.9M820.70,633.8V636.9" stroke="#333" stroke-width="1"/>
<text x="682.6" y="636.1999999999999" font-size="6.8" font-weight="700" fill="#222" text-anchor="end">0</text>
<text x="682.6" y="619.9599999999999" font-size="6.8" font-weight="700" fill="#222" text-anchor="end">20</text>
<text x="682.6" y="603.7199999999999" font-size="6.8" font-weight="700" fill="#222" text-anchor="end">40</text>
<text x="682.6" y="587.48" font-size="6.8" font-weight="700" fill="#222" text-anchor="end">60</text>
<text x="682.6" y="571.24" font-size="6.8" font-weight="700" fill="#222" text-anchor="end">80</text>
<text x="682.6" y="555.0" font-size="6.8" font-weight="700" fill="#222" text-anchor="end">100</text>
<text x="689.30" y="643.10" font-size="7" font-weight="700" fill="#222" text-anchor="end" transform="rotate(-45 689.30 643.10)">0</text>
<text x="700.43" y="643.10" font-size="7" font-weight="700" fill="#222" text-anchor="end" transform="rotate(-45 700.43 643.10)">14</text>
<text x="711.57" y="643.10" font-size="7" font-weight="700" fill="#222" text-anchor="end" transform="rotate(-45 711.57 643.10)">28</text>
<text x="722.70" y="643.10" font-size="7" font-weight="700" fill="#222" text-anchor="end" transform="rotate(-45 722.70 643.10)">42</text>
<text x="733.83" y="643.10" font-size="7" font-weight="700" fill="#222" text-anchor="end" transform="rotate(-45 733.83 643.10)">56</text>
<text x="744.97" y="643.10" font-size="7" font-weight="700" fill="#222" text-anchor="end" transform="rotate(-45 744.97 643.10)">70</text>
<text x="756.10" y="643.10" font-size="7" font-weight="700" fill="#222" text-anchor="end" transform="rotate(-45 756.10 643.10)">84</text>
<text x="767.23" y="643.10" font-size="7" font-weight="700" fill="#222" text-anchor="end" transform="rotate(-45 767.23 643.10)">98</text>
<text x="778.37" y="643.10" font-size="7" font-weight="700" fill="#222" text-anchor="end" transform="rotate(-45 778.37 643.10)">112</text>
<text x="789.50" y="643.10" font-size="7" font-weight="700" fill="#222" text-anchor="end" transform="rotate(-45 789.50 643.10)">126</text>
<text x="800.63" y="643.10" font-size="7" font-weight="700" fill="#222" text-anchor="end" transform="rotate(-45 800.63 643.10)">140</text>
<text x="811.77" y="643.10" font-size="7" font-weight="700" fill="#222" text-anchor="end" transform="rotate(-45 811.77 643.10)">154</text>
<text x="822.90" y="643.10" font-size="7" font-weight="700" fill="#222" text-anchor="end" transform="rotate(-45 822.90 643.10)">168</text>
<text x="0" y="0" font-size="7.8" fill="#111" text-anchor="middle" transform="translate(667.4 589) rotate(-90)" textLength="56" lengthAdjust="spacingAndGlyphs">Percent survival</text>
<text x="753.7" y="662.6" font-size="8" font-weight="700" fill="#111" textLength="79.9" lengthAdjust="spacingAndGlyphs" text-anchor="middle">Days post engraftment</text>
<path d="M687.1,552.60 H801.3 V558 H814 V563.5 H815.2 V568.6 H820.7 v-2" fill="none" stroke="#2f3fe0" stroke-width="1.2"/>
<path d="M753.3,552.60 V558.4 H754.7 V570.2 H787.2 V575.3 H795.5 V604.3 H803.7 V610.2 H809.4 V616 H820.7 v-2" fill="none" stroke="#e8604c" stroke-width="1.2"/>
<text x="824.8" y="570.4" font-size="7.9" fill="#2f3fe0" textLength="25.4" lengthAdjust="spacingAndGlyphs">80.00%</text>
<text x="824.3" y="617.3" font-size="7.9" fill="#e8604c" textLength="25" lengthAdjust="spacingAndGlyphs">21.43%</text>
<text x="988.6" y="532.8" font-size="9.1" font-weight="700" fill="#111" textLength="50.8" lengthAdjust="spacingAndGlyphs" text-anchor="middle">Body weight</text>
<path d="M907.7,543.6 V633.5 H1069.5" fill="none" stroke="#111" stroke-width="1.2"/>
<path d="M904.5,633.50H907.7M904.5,611.25H907.7M904.5,589.00H907.7M904.5,566.75H907.7M904.5,544.50H907.7M907.70,633.5V636.5M916.22,633.5V636.5M924.73,633.5V636.5M933.25,633.5V636.5M941.76,633.5V636.5M950.28,633.5V636.5M958.79,633.5V636.5M967.31,633.5V636.5M975.83,633.5V636.5M984.34,633.5V636.5M992.86,633.5V636.5M1001.37,633.5V636.5M1009.89,633.5V636.5M1018.41,633.5V636.5M1026.92,633.5V636.5M1035.44,633.5V636.5M1043.95,633.5V636.5M1052.47,633.5V636.5M1060.98,633.5V636.5M1069.50,633.5V636.5" stroke="#111" stroke-width="0.9"/>
<text x="903.6" y="635.8" font-size="6.6" fill="#111" text-anchor="end">10</text>
<text x="903.6" y="613.55" font-size="6.6" fill="#111" text-anchor="end">15</text>
<text x="903.6" y="591.3" font-size="6.6" fill="#111" text-anchor="end">20</text>
<text x="903.6" y="569.05" font-size="6.6" fill="#111" text-anchor="end">25</text>
<text x="903.6" y="546.8" font-size="6.6" fill="#111" text-anchor="end">30</text>
<text x="907.7" y="644.7" font-size="6.9" font-weight="700" fill="#222" textLength="3.8" lengthAdjust="spacingAndGlyphs" text-anchor="middle">5</text>
<text x="916.2157894736843" y="644.7" font-size="6.9" font-weight="700" fill="#222" textLength="3.8" lengthAdjust="spacingAndGlyphs" text-anchor="middle">6</text>
<text x="924.7315789473685" y="644.7" font-size="6.9" font-weight="700" fill="#222" textLength="3.8" lengthAdjust="spacingAndGlyphs" text-anchor="middle">7</text>
<text x="933.2473684210527" y="644.7" font-size="6.9" font-weight="700" fill="#222" textLength="3.8" lengthAdjust="spacingAndGlyphs" text-anchor="middle">8</text>
<text x="941.7631578947369" y="644.7" font-size="6.9" font-weight="700" fill="#222" textLength="3.8" lengthAdjust="spacingAndGlyphs" text-anchor="middle">9</text>
<text x="950.2789473684211" y="644.7" font-size="6.9" font-weight="700" fill="#222" textLength="7.6" lengthAdjust="spacingAndGlyphs" text-anchor="middle">10</text>
<text x="958.7947368421053" y="644.7" font-size="6.9" font-weight="700" fill="#222" textLength="7.6" lengthAdjust="spacingAndGlyphs" text-anchor="middle">11</text>
<text x="967.3105263157895" y="644.7" font-size="6.9" font-weight="700" fill="#222" textLength="7.6" lengthAdjust="spacingAndGlyphs" text-anchor="middle">12</text>
<text x="975.8263157894737" y="644.7" font-size="6.9" font-weight="700" fill="#222" textLength="7.6" lengthAdjust="spacingAndGlyphs" text-anchor="middle">13</text>
<text x="984.3421052631579" y="644.7" font-size="6.9" font-weight="700" fill="#222" textLength="7.6" lengthAdjust="spacingAndGlyphs" text-anchor="middle">14</text>
<text x="992.8578947368421" y="644.7" font-size="6.9" font-weight="700" fill="#222" textLength="7.6" lengthAdjust="spacingAndGlyphs" text-anchor="middle">15</text>
<text x="1001.3736842105263" y="644.7" font-size="6.9" font-weight="700" fill="#222" textLength="7.6" lengthAdjust="spacingAndGlyphs" text-anchor="middle">16</text>
<text x="1009.8894736842105" y="644.7" font-size="6.9" font-weight="700" fill="#222" textLength="7.6" lengthAdjust="spacingAndGlyphs" text-anchor="middle">17</text>
<text x="1018.4052631578948" y="644.7" font-size="6.9" font-weight="700" fill="#222" textLength="7.6" lengthAdjust="spacingAndGlyphs" text-anchor="middle">18</text>
<text x="1026.921052631579" y="644.7" font-size="6.9" font-weight="700" fill="#222" textLength="7.6" lengthAdjust="spacingAndGlyphs" text-anchor="middle">19</text>
<text x="1035.4368421052632" y="644.7" font-size="6.9" font-weight="700" fill="#222" textLength="7.6" lengthAdjust="spacingAndGlyphs" text-anchor="middle">20</text>
<text x="1043.9526315789474" y="644.7" font-size="6.9" font-weight="700" fill="#222" textLength="7.6" lengthAdjust="spacingAndGlyphs" text-anchor="middle">21</text>
<text x="1052.4684210526316" y="644.7" font-size="6.9" font-weight="700" fill="#222" textLength="7.6" lengthAdjust="spacingAndGlyphs" text-anchor="middle">22</text>
<text x="1060.9842105263158" y="644.7" font-size="6.9" font-weight="700" fill="#222" textLength="7.6" lengthAdjust="spacingAndGlyphs" text-anchor="middle">23</text>
<text x="1069.5" y="644.7" font-size="6.9" font-weight="700" fill="#222" textLength="7.6" lengthAdjust="spacingAndGlyphs" text-anchor="middle">24</text>
<text x="0" y="0" font-size="7.8" fill="#111" text-anchor="middle" transform="translate(891.2 588.3) rotate(-90)" textLength="54" lengthAdjust="spacingAndGlyphs">Body weight (g)</text>
<text x="988.4" y="658.7" font-size="8" font-weight="700" fill="#111" textLength="85.3" lengthAdjust="spacingAndGlyphs" text-anchor="middle">Weeks post engraftment</text>
<polyline points="907.70,603.71 916.22,601.44 924.73,599.16 933.25,598.28 941.76,598.81 950.28,596.53 958.79,593.56 967.31,594.08 975.83,593.20 984.34,591.80 992.86,593.91 1001.37,598.28 1009.89,596.71 1018.41,593.56 1026.92,602.31 1035.44,593.56 1043.95,595.83 1052.47,594.43 1060.98,597.06 1069.50,598.46" fill="none" stroke="#f0a094" stroke-width="0.8"/>
<polyline points="907.70,601.96 916.22,600.91 924.73,598.46 933.25,595.31 941.76,594.96 950.28,591.80 958.79,590.40 967.31,591.45 975.83,590.58 984.34,587.43 992.86,587.43 1001.37,592.15 1009.89,589.70 1018.41,588.83 1026.92,588.30 1035.44,588.30 1043.95,586.55 1052.47,585.67 1060.98,584.80 1069.50,584.80" fill="none" stroke="#8f96f0" stroke-width="0.8"/>
<path d="M1026.92,599.68V606.69M1025.42,599.68h3M1025.42,606.69h3M1043.95,590.05V602.31M1042.45,590.05h3M1042.45,602.31h3M1052.47,590.93V600.56M1050.97,590.93h3M1050.97,600.56h3M1060.98,591.80V602.31M1059.48,591.80h3M1059.48,602.31h3M1069.50,591.80V604.06M1068.00,591.80h3M1068.00,604.06h3M992.86,590.93V597.06M991.36,590.93h3M991.36,597.06h3M1001.37,595.31V601.44M999.87,595.31h3M999.87,601.44h3M1009.89,593.56V600.21M1008.39,593.56h3M1008.39,600.21h3M984.34,589.70V594.43M982.84,589.70h3M982.84,594.43h3M1018.41,590.93V596.18M1016.91,590.93h3M1016.91,596.18h3M1035.44,590.93V596.18M1033.94,590.93h3M1033.94,596.18h3" stroke="#f0a094" stroke-width="0.7" fill="none"/>
<path d="M1052.47,582.17V589.18M1050.97,582.17h3M1050.97,589.18h3M1060.98,582.17V588.30M1059.48,582.17h3M1059.48,588.30h3M1069.50,581.30V588.30M1068.00,581.30h3M1068.00,588.30h3M984.34,584.80V590.05M982.84,584.80h3M982.84,590.05h3M992.86,584.80V590.05M991.36,584.80h3M991.36,590.05h3M1001.37,589.70V594.43M999.87,589.70h3M999.87,594.43h3M1043.95,584.45V589.18M1042.45,584.45h3M1042.45,589.18h3" stroke="#8f96f0" stroke-width="0.7" fill="none"/>
<circle cx="907.70" cy="603.71" r="2.1" fill="#e4361f"/>
<circle cx="916.22" cy="601.44" r="2.1" fill="#e4361f"/>
<circle cx="924.73" cy="599.16" r="2.1" fill="#e4361f"/>
<circle cx="933.25" cy="598.28" r="2.1" fill="#e4361f"/>
<circle cx="941.76" cy="598.81" r="2.1" fill="#e4361f"/>
<circle cx="950.28" cy="596.53" r="2.1" fill="#e4361f"/>
<circle cx="958.79" cy="593.56" r="2.1" fill="#e4361f"/>
<circle cx="967.31" cy="594.08" r="2.1" fill="#e4361f"/>
<circle cx="975.83" cy="593.20" r="2.1" fill="#e4361f"/>
<circle cx="984.34" cy="591.80" r="2.1" fill="#e4361f"/>
<circle cx="992.86" cy="593.91" r="2.1" fill="#e4361f"/>
<circle cx="1001.37" cy="598.28" r="2.1" fill="#e4361f"/>
<circle cx="1009.89" cy="596.71" r="2.1" fill="#e4361f"/>
<circle cx="1018.41" cy="593.56" r="2.1" fill="#e4361f"/>
<circle cx="1026.92" cy="602.31" r="2.1" fill="#e4361f"/>
<circle cx="1035.44" cy="593.56" r="2.1" fill="#e4361f"/>
<circle cx="1043.95" cy="595.83" r="2.1" fill="#e4361f"/>
<circle cx="1052.47" cy="594.43" r="2.1" fill="#e4361f"/>
<circle cx="1060.98" cy="597.06" r="2.1" fill="#e4361f"/>
<circle cx="1069.50" cy="598.46" r="2.1" fill="#e4361f"/>
<rect x="905.55" y="599.81" width="4.3" height="4.3" rx="0.4" fill="#0814f2"/>
<rect x="914.07" y="598.76" width="4.3" height="4.3" rx="0.4" fill="#0814f2"/>
<rect x="922.58" y="596.31" width="4.3" height="4.3" rx="0.4" fill="#0814f2"/>
<rect x="931.10" y="593.16" width="4.3" height="4.3" rx="0.4" fill="#0814f2"/>
<rect x="939.61" y="592.81" width="4.3" height="4.3" rx="0.4" fill="#0814f2"/>
<rect x="948.13" y="589.65" width="4.3" height="4.3" rx="0.4" fill="#0814f2"/>
<rect x="956.64" y="588.25" width="4.3" height="4.3" rx="0.4" fill="#0814f2"/>
<rect x="965.16" y="589.30" width="4.3" height="4.3" rx="0.4" fill="#0814f2"/>
<rect x="973.68" y="588.43" width="4.3" height="4.3" rx="0.4" fill="#0814f2"/>
<rect x="982.19" y="585.28" width="4.3" height="4.3" rx="0.4" fill="#0814f2"/>
<rect x="990.71" y="585.28" width="4.3" height="4.3" rx="0.4" fill="#0814f2"/>
<rect x="999.22" y="590.00" width="4.3" height="4.3" rx="0.4" fill="#0814f2"/>
<rect x="1007.74" y="587.55" width="4.3" height="4.3" rx="0.4" fill="#0814f2"/>
<rect x="1016.26" y="586.68" width="4.3" height="4.3" rx="0.4" fill="#0814f2"/>
<rect x="1024.77" y="586.15" width="4.3" height="4.3" rx="0.4" fill="#0814f2"/>
<rect x="1033.29" y="586.15" width="4.3" height="4.3" rx="0.4" fill="#0814f2"/>
<rect x="1041.80" y="584.40" width="4.3" height="4.3" rx="0.4" fill="#0814f2"/>
<rect x="1050.32" y="583.52" width="4.3" height="4.3" rx="0.4" fill="#0814f2"/>
<rect x="1058.83" y="582.65" width="4.3" height="4.3" rx="0.4" fill="#0814f2"/>
<rect x="1067.35" y="582.65" width="4.3" height="4.3" rx="0.4" fill="#0814f2"/>
<path d="M913.3,546.8H922.9" stroke="#8f96f0" stroke-width="0.8"/><rect x="916.1" y="544.7" width="4.2" height="4.2" fill="#0814f2"/>
<path d="M913.3,556.8H922.9" stroke="#f0a094" stroke-width="0.8"/><circle cx="918.2" cy="556.8" r="2.1" fill="#e4361f"/>
<text x="927.6" y="549.3" font-size="7.5" fill="#333" textLength="110.9" lengthAdjust="spacingAndGlyphs">B-NDG hIL15, 0.9 Gy, 3E4, mix donor</text>
<text x="927.6" y="559.3" font-size="7.5" fill="#333" textLength="140.1" lengthAdjust="spacingAndGlyphs">B-NDG B2m plus/hIL15, 0.9 Gy, 3E4, mix donor</text>
<text x="891.2" y="281.3" font-size="5.6" font-weight="700" fill="#111">A</text>
<text x="938.9" y="278.7" font-size="4.6" font-weight="700" fill="#222" textLength="25.8" lengthAdjust="spacingAndGlyphs" text-anchor="middle">Survival curve</text>
<path d="M910.5,284.1V322.2H967.9" fill="none" stroke="#555" stroke-width="0.7"/>
<path d="M908.7,322.20H910.5M908.7,315.20H910.5M908.7,308.20H910.5M908.7,301.20H910.5M908.7,294.20H910.5M908.7,287.20H910.5M910.50,322.2v1.4M912.41,322.2v1.4M914.33,322.2v1.4M916.24,322.2v1.4M918.15,322.2v1.4M920.07,322.2v1.4M921.98,322.2v1.4M923.89,322.2v1.4M925.81,322.2v1.4M927.72,322.2v1.4M929.63,322.2v1.4M931.55,322.2v1.4M933.46,322.2v1.4M935.37,322.2v1.4M937.29,322.2v1.4M939.20,322.2v1.4M941.11,322.2v1.4M943.03,322.2v1.4M944.94,322.2v1.4M946.85,322.2v1.4M948.77,322.2v1.4M950.68,322.2v1.4M952.59,322.2v1.4M954.51,322.2v1.4M956.42,322.2v1.4M958.33,322.2v1.4M960.25,322.2v1.4M962.16,322.2v1.4M964.07,322.2v1.4M965.99,322.2v1.4M967.90,322.2v1.4" stroke="#222" stroke-width="0.6"/>
<text x="908.2" y="323.59999999999997" font-size="3.6" fill="#333" text-anchor="end">0</text>
<text x="908.2" y="316.59999999999997" font-size="3.6" fill="#333" text-anchor="end">20</text>
<text x="908.2" y="309.59999999999997" font-size="3.6" fill="#333" text-anchor="end">40</text>
<text x="908.2" y="302.59999999999997" font-size="3.6" fill="#333" text-anchor="end">60</text>
<text x="908.2" y="295.59999999999997" font-size="3.6" fill="#333" text-anchor="end">80</text>
<text x="908.2" y="288.59999999999997" font-size="3.6" fill="#333" text-anchor="end">100</text>
<text x="910.5" y="326.7" font-size="3.6" fill="#333" text-anchor="middle">0</text>
<text x="929.6333333333333" y="326.7" font-size="3.6" fill="#333" text-anchor="middle">10</text>
<text x="948.7666666666667" y="326.7" font-size="3.6" fill="#333" text-anchor="middle">20</text>
<text x="967.9" y="326.7" font-size="3.6" fill="#333" text-anchor="middle">30</text>
<text x="938.9" y="331.1" font-size="4.0" fill="#333" textLength="41.9" lengthAdjust="spacingAndGlyphs" text-anchor="middle">Days post PBMC engraftment</text>
<text x="0" y="0" font-size="4" fill="#333" text-anchor="middle" transform="translate(901.5 303.2) rotate(-90)" textLength="24.3" lengthAdjust="spacingAndGlyphs">Percent survival</text>
<path d="M910.5,287.2H960.6v-1.2" fill="none" stroke="#8f96f0" stroke-width="0.9"/>
<path d="M921.3,287.2V294.5H935.5V315.4H960.6v-1.2" fill="none" stroke="#f0a094" stroke-width="0.9"/>
<text x="982" y="281.2" font-size="5.6" font-weight="700" fill="#111">B</text>
<text x="1025.9" y="280.9" font-size="4.6" font-weight="700" fill="#222" textLength="36.4" lengthAdjust="spacingAndGlyphs" text-anchor="middle">Body weight change</text>
<path d="M997.4,286V324.1M997.4,295.6H1055" fill="none" stroke="#555" stroke-width="0.7"/>
<path d="M995.6,286.10H997.4M995.6,295.60H997.4M995.6,305.10H997.4M995.6,314.60H997.4M995.6,324.10H997.4M997.40,295.6v1.4M999.32,295.6v1.4M1001.24,295.6v1.4M1003.16,295.6v1.4M1005.08,295.6v1.4M1007.00,295.6v1.4M1008.92,295.6v1.4M1010.84,295.6v1.4M1012.76,295.6v1.4M1014.68,295.6v1.4M1016.60,295.6v1.4M1018.52,295.6v1.4M1020.44,295.6v1.4M1022.36,295.6v1.4M1024.28,295.6v1.4M1026.20,295.6v1.4M1028.12,295.6v1.4M1030.04,295.6v1.4M1031.96,295.6v1.4M1033.88,295.6v1.4M1035.80,295.6v1.4M1037.72,295.6v1.4M1039.64,295.6v1.4M1041.56,295.6v1.4M1043.48,295.6v1.4M1045.40,295.6v1.4M1047.32,295.6v1.4M1049.24,295.6v1.4M1051.16,295.6v1.4M1053.08,295.6v1.4M1055.00,295.6v1.4" stroke="#222" stroke-width="0.6"/>
<text x="995.1" y="287.5" font-size="3.6" fill="#333" text-anchor="end">10</text>
<text x="995.1" y="297.0" font-size="3.6" fill="#333" text-anchor="end">0</text>
<text x="995.1" y="306.5" font-size="3.6" fill="#333" text-anchor="end">-10</text>
<text x="995.1" y="316.0" font-size="3.6" fill="#333" text-anchor="end">-20</text>
<text x="995.1" y="325.5" font-size="3.6" fill="#333" text-anchor="end">-30</text>
<text x="1016.6" y="300.3" font-size="3.6" fill="#333" text-anchor="middle">10</text>
<text x="1035.8" y="300.3" font-size="3.6" fill="#333" text-anchor="middle">20</text>
<text x="1055.0" y="300.3" font-size="3.6" fill="#333" text-anchor="middle">30</text>
<text x="1025.9" y="304.8" font-size="4.0" fill="#333" textLength="41.9" lengthAdjust="spacingAndGlyphs" text-anchor="middle">Days post PBMC engraftment</text>
<text x="0" y="0" font-size="4" fill="#333" text-anchor="middle" transform="translate(988.5 305) rotate(-90)" textLength="38" lengthAdjust="spacingAndGlyphs">Body weight change (%)</text>
<polyline points="997.4,295.6 1008.9,303.6 1022.3,317.9 1033.8,310 1047.4,321" fill="none" stroke="#f0a094" stroke-width="0.7"/>
<polyline points="997.4,295.6 1008.9,295.8 1022.3,293.2 1033.8,292.4 1047.4,291.5" fill="none" stroke="#8f96f0" stroke-width="0.7"/>
<path d="M1033.8,304.8V315.4M1047.4,318.5V323.5" stroke="#f0a094" stroke-width="0.6"/>
<rect x="996.1999999999999" y="294.40000000000003" width="2.4" height="2.4" fill="#e8604c"/>
<rect x="1007.6999999999999" y="302.40000000000003" width="2.4" height="2.4" fill="#e8604c"/>
<rect x="1021.0999999999999" y="316.7" width="2.4" height="2.4" fill="#e8604c"/>
<rect x="1032.6" y="308.8" width="2.4" height="2.4" fill="#e8604c"/>
<rect x="1046.2" y="319.8" width="2.4" height="2.4" fill="#e8604c"/>
<path d="M996.0,294.5h2.8l-1.4,2.4z" fill="#2f3fe0"/>
<path d="M1007.5,294.7h2.8l-1.4,2.4z" fill="#2f3fe0"/>
<path d="M1020.9,292.09999999999997h2.8l-1.4,2.4z" fill="#2f3fe0"/>
<path d="M1032.3999999999999,291.29999999999995h2.8l-1.4,2.4z" fill="#2f3fe0"/>
<path d="M1046.0,290.4h2.8l-1.4,2.4z" fill="#2f3fe0"/>
<path d="M1064.2,287.6h3l-1.5,2.5z" fill="#2f3fe0"/><rect x="1064.5" y="292.9" width="2.4" height="2.4" fill="#e8604c"/>
<text x="1070.1" y="290.2" font-size="3.8" fill="#333" textLength="33.1" lengthAdjust="spacingAndGlyphs">B-NDG B2m plus/hIL15</text>
<text x="1070.1" y="295.6" font-size="3.8" fill="#333" textLength="10.7" lengthAdjust="spacingAndGlyphs">B-NDG</text>
<text x="883.9" y="351.4" font-size="5.6" font-weight="700" fill="#111">C</text>
<text x="935.4" y="351.5" font-size="4.3" font-weight="700" fill="#222" textLength="20.2" lengthAdjust="spacingAndGlyphs" text-anchor="middle">Leukocytes</text>
<path d="M910,356.2V394.9H960.9" fill="none" stroke="#555" stroke-width="0.7"/>
<path d="M908.2,394.90H910M908.2,382.00H910M908.2,369.10H910M908.2,356.20H910M910.00,394.9v1.4M913.39,394.9v1.4M916.79,394.9v1.4M920.18,394.9v1.4M923.57,394.9v1.4M926.97,394.9v1.4M930.36,394.9v1.4M933.75,394.9v1.4M937.15,394.9v1.4M940.54,394.9v1.4M943.93,394.9v1.4M947.33,394.9v1.4M950.72,394.9v1.4M954.11,394.9v1.4M957.51,394.9v1.4M960.90,394.9v1.4" stroke="#222" stroke-width="0.6"/>
<text x="907.7" y="396.29999999999995" font-size="3.4" fill="#333" text-anchor="end">0</text>
<text x="907.7" y="383.4" font-size="3.4" fill="#333" text-anchor="end">5×10⁶</text>
<text x="907.7" y="370.49999999999994" font-size="3.4" fill="#333" text-anchor="end">1×10⁷</text>
<text x="907.7" y="357.59999999999997" font-size="3.4" fill="#333" text-anchor="end">1.5×10⁷</text>
<text x="910.0" y="399.3" font-size="3.6" fill="#333" text-anchor="middle">0</text>
<text x="926.9666666666667" y="399.3" font-size="3.6" fill="#333" text-anchor="middle">10</text>
<text x="943.9333333333333" y="399.3" font-size="3.6" fill="#333" text-anchor="middle">20</text>
<text x="960.9" y="399.3" font-size="3.6" fill="#333" text-anchor="middle">30</text>
<text x="935.4" y="405" font-size="4.0" fill="#333" textLength="41.9" lengthAdjust="spacingAndGlyphs" text-anchor="middle">Days post PBMC engraftment</text>
<text x="0" y="0" font-size="3.8" fill="#333" text-anchor="middle" transform="translate(896 376) rotate(-90)" textLength="40.3" lengthAdjust="spacingAndGlyphs">hCD45+ cells in PB (no./mL)</text>
<polyline points="912,394 920,394.5 923.6,394.4 932.2,393.8 954.2,372.7" fill="none" stroke="#8f96f0" stroke-width="0.7"/>
<path d="M954.2,364.3V380.4M953.0,364.3h2.4M953.0,380.4h2.4" stroke="#8f96f0" stroke-width="0.6"/>
<circle cx="912" cy="394" r="1.2" fill="#2f3fe0"/>
<circle cx="920" cy="394.5" r="1.2" fill="#2f3fe0"/>
<circle cx="923.6" cy="394.4" r="1.2" fill="#2f3fe0"/>
<circle cx="932.2" cy="393.8" r="1.2" fill="#2f3fe0"/>
<circle cx="954.2" cy="372.7" r="1.2" fill="#2f3fe0"/>
<text x="1023" y="351.5" font-size="4.3" font-weight="700" fill="#222" textLength="13.5" lengthAdjust="spacingAndGlyphs" text-anchor="middle">T cells</text>
<path d="M997.2,356.2V394.9H1048.3" fill="none" stroke="#555" stroke-width="0.7"/>
<path d="M995.4000000000001,394.90H997.2M995.4000000000001,382.00H997.2M995.4000000000001,369.10H997.2M995.4000000000001,356.20H997.2M997.20,394.9v1.4M1000.61,394.9v1.4M1004.01,394.9v1.4M1007.42,394.9v1.4M1010.83,394.9v1.4M1014.23,394.9v1.4M1017.64,394.9v1.4M1021.05,394.9v1.4M1024.45,394.9v1.4M1027.86,394.9v1.4M1031.27,394.9v1.4M1034.67,394.9v1.4M1038.08,394.9v1.4M1041.49,394.9v1.4M1044.89,394.9v1.4M1048.30,394.9v1.4" stroke="#222" stroke-width="0.6"/>
<text x="994.9000000000001" y="396.29999999999995" font-size="3.4" fill="#333" text-anchor="end">0</text>
<text x="994.9000000000001" y="383.4" font-size="3.4" fill="#333" text-anchor="end">5×10⁶</text>
<text x="994.9000000000001" y="370.49999999999994" font-size="3.4" fill="#333" text-anchor="end">1×10⁷</text>
<text x="994.9000000000001" y="357.59999999999997" font-size="3.4" fill="#333" text-anchor="end">1.5×10⁷</text>
<text x="997.2" y="399.3" font-size="3.6" fill="#333" text-anchor="middle">0</text>
<text x="1014.2333333333333" y="399.3" font-size="3.6" fill="#333" text-anchor="middle">10</text>
<text x="1031.2666666666667" y="399.3" font-size="3.6" fill="#333" text-anchor="middle">20</text>
<text x="1048.3" y="399.3" font-size="3.6" fill="#333" text-anchor="middle">30</text>
<text x="1023" y="405" font-size="4.0" fill="#333" textLength="41.9" lengthAdjust="spacingAndGlyphs" text-anchor="middle">Days post PBMC engraftment</text>
<text x="0" y="0" font-size="3.8" fill="#333" text-anchor="middle" transform="translate(983 376) rotate(-90)" textLength="40.3" lengthAdjust="spacingAndGlyphs">hCD3+ cells in PB (no./mL)</text>
<polyline points="999,394 1007,394.4 1010.6,394.3 1019.5,393.7 1041.4,375.5" fill="none" stroke="#8f96f0" stroke-width="0.7"/>
<path d="M1041.4,367.9V382.8M1040.2,367.9h2.4M1040.2,382.8h2.4" stroke="#8f96f0" stroke-width="0.6"/>
<circle cx="999" cy="394" r="1.2" fill="#2f3fe0"/>
<circle cx="1007" cy="394.4" r="1.2" fill="#2f3fe0"/>
<circle cx="1010.6" cy="394.3" r="1.2" fill="#2f3fe0"/>
<circle cx="1019.5" cy="393.7" r="1.2" fill="#2f3fe0"/>
<circle cx="1041.4" cy="375.5" r="1.2" fill="#2f3fe0"/>
<text x="1108.5" y="351.5" font-size="4.3" font-weight="700" fill="#222" textLength="16" lengthAdjust="spacingAndGlyphs" text-anchor="middle">NK cells</text>
<path d="M1083.8,356.2V394.9H1134.7" fill="none" stroke="#555" stroke-width="0.7"/>
<path d="M1082.0,394.90H1083.8M1082.0,382.00H1083.8M1082.0,369.10H1083.8M1082.0,356.20H1083.8M1083.80,394.9v1.4M1087.19,394.9v1.4M1090.59,394.9v1.4M1093.98,394.9v1.4M1097.37,394.9v1.4M1100.77,394.9v1.4M1104.16,394.9v1.4M1107.55,394.9v1.4M1110.95,394.9v1.4M1114.34,394.9v1.4M1117.73,394.9v1.4M1121.13,394.9v1.4M1124.52,394.9v1.4M1127.91,394.9v1.4M1131.31,394.9v1.4M1134.70,394.9v1.4" stroke="#222" stroke-width="0.6"/>
<text x="1081.5" y="396.29999999999995" font-size="3.4" fill="#333" text-anchor="end">0</text>
<text x="1081.5" y="383.4" font-size="3.4" fill="#333" text-anchor="end">5×10⁵</text>
<text x="1081.5" y="370.49999999999994" font-size="3.4" fill="#333" text-anchor="end">1×10⁶</text>
<text x="1081.5" y="357.59999999999997" font-size="3.4" fill="#333" text-anchor="end">1.5×10⁶</text>
<text x="1083.8" y="399.3" font-size="3.6" fill="#333" text-anchor="middle">0</text>
<text x="1100.7666666666667" y="399.3" font-size="3.6" fill="#333" text-anchor="middle">10</text>
<text x="1117.7333333333333" y="399.3" font-size="3.6" fill="#333" text-anchor="middle">20</text>
<text x="1134.7" y="399.3" font-size="3.6" fill="#333" text-anchor="middle">30</text>
<text x="1108.5" y="405" font-size="4.0" fill="#333" textLength="41.9" lengthAdjust="spacingAndGlyphs" text-anchor="middle">Days post PBMC engraftment</text>
<text x="0" y="0" font-size="3.8" fill="#333" text-anchor="middle" transform="translate(1069.5 376) rotate(-90)" textLength="50.6" lengthAdjust="spacingAndGlyphs">hCD3-hCD56+ cells in PB (no./mL)</text>
<polyline points="1085.2,383.6 1094,388.3 1097.4,390.6 1105.9,393.3 1127.7,364.4" fill="none" stroke="#8f96f0" stroke-width="0.7"/>
<path d="M1127.7,358.6V370M1126.5,358.6h2.4M1126.5,370h2.4" stroke="#8f96f0" stroke-width="0.6"/>
<path d="M1094,386.5V390M1092.8,386.5h2.4M1092.8,390h2.4" stroke="#8f96f0" stroke-width="0.6"/>
<circle cx="1085.2" cy="383.6" r="1.2" fill="#2f3fe0"/>
<circle cx="1094" cy="388.3" r="1.2" fill="#2f3fe0"/>
<circle cx="1097.4" cy="390.6" r="1.2" fill="#2f3fe0"/>
<circle cx="1105.9" cy="393.3" r="1.2" fill="#2f3fe0"/>
<circle cx="1127.7" cy="364.4" r="1.2" fill="#2f3fe0"/>
<circle cx="1087.3" cy="358" r="1.1" fill="#2f3fe0"/>
<text x="1091" y="359.3" font-size="3.6" fill="#333" textLength="33.8" lengthAdjust="spacingAndGlyphs">B-NDG B2m plus/hIL15</text>
<text x="884" y="426.8" font-size="5.6" font-weight="700" fill="#111">D</text>
<text x="927.4" y="424.7" font-size="4.0" font-weight="700" fill="#222" text-anchor="middle">LCA+ - 266</text>
<rect x="905.3" y="429.2" width="43.80000000000007" height="41" fill="none" stroke="#c8c8c8" stroke-width="0.6"/>
<path d="M904.0999999999999,429.20h1.2M904.0999999999999,435.06h1.2M904.0999999999999,440.91h1.2M904.0999999999999,446.77h1.2M904.0999999999999,452.63h1.2M904.0999999999999,458.49h1.2M904.0999999999999,464.34h1.2M904.0999999999999,470.20h1.2M905.30,470.2v1.2M912.60,470.2v1.2M919.90,470.2v1.2M927.20,470.2v1.2M934.50,470.2v1.2M941.80,470.2v1.2M949.10,470.2v1.2" stroke="#999" stroke-width="0.5"/>
<text x="927.4" y="477.1" font-size="3.6" font-weight="700" fill="#333" textLength="40" lengthAdjust="spacingAndGlyphs" text-anchor="middle">hCD45 - APC-eFluor™ 78...</text>
<text x="0" y="0" font-size="3.5" font-weight="700" fill="#333" text-anchor="middle" transform="translate(900 450) rotate(-90)" textLength="30" lengthAdjust="spacingAndGlyphs">mCD45 - Alexa Fluor™</text>
<defs><linearGradient id="mg" x1="0" x2="1"><stop offset="0" stop-color="#4aa0e8"/><stop offset="0.5" stop-color="#c050e0"/><stop offset="1" stop-color="#f040d8"/></linearGradient></defs>
<rect x="905.3" y="436.4" width="24.4" height="15" fill="none" stroke="#a8d0f0" stroke-width="0.7"/>
<path d="M907,451 L907,447.5 L915,446 L927.4,443 L927.4,450.5 Z" fill="#4aa6e8" opacity="0.85"/>
<rect x="929.7" y="442.7" width="19" height="27.5" fill="none" stroke="#8090b0" stroke-width="0.7"/>
<path d="M930.5,461 C931,456 935,451 941,447.5 C943,447 943.5,449 942,452 C940,456 935,460 931,462 Z" fill="url(#mg)" opacity="0.85"/>
<path d="M940.0,460.3h0.5v0.5h-0.5zM942.7,464.7h0.5v0.5h-0.5zM941.8,464.3h0.5v0.5h-0.5zM930.5,454.2h0.5v0.5h-0.5zM945.1,458.3h0.5v0.5h-0.5zM944.4,446.5h0.5v0.5h-0.5zM937.5,449.4h0.5v0.5h-0.5zM938.7,456.6h0.5v0.5h-0.5zM930.2,448.8h0.5v0.5h-0.5zM934.5,464.2h0.5v0.5h-0.5zM942.3,447.5h0.5v0.5h-0.5zM942.8,447.1h0.5v0.5h-0.5zM939.9,446.8h0.5v0.5h-0.5zM930.0,463.2h0.5v0.5h-0.5zM933.4,448.7h0.5v0.5h-0.5zM945.7,463.2h0.5v0.5h-0.5zM934.6,465.2h0.5v0.5h-0.5zM938.6,458.9h0.5v0.5h-0.5zM933.3,464.7h0.5v0.5h-0.5zM941.1,465.3h0.5v0.5h-0.5zM944.3,450.6h0.5v0.5h-0.5zM935.8,447.7h0.5v0.5h-0.5zM932.3,445.4h0.5v0.5h-0.5zM934.8,457.3h0.5v0.5h-0.5zM930.1,458.9h0.5v0.5h-0.5zM935.4,450.8h0.5v0.5h-0.5zM943.1,454.6h0.5v0.5h-0.5zM935.1,454.6h0.5v0.5h-0.5zM941.3,445.3h0.5v0.5h-0.5zM945.6,444.5h0.5v0.5h-0.5zM942.0,462.6h0.5v0.5h-0.5zM930.3,461.3h0.5v0.5h-0.5zM935.9,456.7h0.5v0.5h-0.5zM930.1,445.0h0.5v0.5h-0.5zM932.9,465.0h0.5v0.5h-0.5zM933.1,460.6h0.5v0.5h-0.5zM944.9,464.7h0.5v0.5h-0.5zM935.5,451.8h0.5v0.5h-0.5zM938.4,461.1h0.5v0.5h-0.5zM931.7,460.5h0.5v0.5h-0.5zM942.8,462.9h0.5v0.5h-0.5zM930.6,464.8h0.5v0.5h-0.5zM931.5,451.5h0.5v0.5h-0.5zM939.8,464.2h0.5v0.5h-0.5zM935.4,464.3h0.5v0.5h-0.5zM938.7,450.9h0.5v0.5h-0.5zM935.1,447.9h0.5v0.5h-0.5zM931.3,447.3h0.5v0.5h-0.5zM941.0,465.9h0.5v0.5h-0.5zM932.6,445.1h0.5v0.5h-0.5zM945.8,455.7h0.5v0.5h-0.5zM936.5,449.2h0.5v0.5h-0.5zM939.5,462.2h0.5v0.5h-0.5zM937.3,453.3h0.5v0.5h-0.5zM930.9,464.2h0.5v0.5h-0.5zM930.5,454.9h0.5v0.5h-0.5zM943.4,446.9h0.5v0.5h-0.5zM941.7,464.9h0.5v0.5h-0.5zM940.1,461.3h0.5v0.5h-0.5zM931.7,453.6h0.5v0.5h-0.5z" fill="#e080e8" opacity="0.6"/>
<path d="M910.3,449.4h0.5v0.5h-0.5zM913.5,445.5h0.5v0.5h-0.5zM929.0,449.5h0.5v0.5h-0.5zM928.5,445.5h0.5v0.5h-0.5zM917.7,448.3h0.5v0.5h-0.5zM917.5,443.9h0.5v0.5h-0.5zM915.9,442.5h0.5v0.5h-0.5zM915.3,450.9h0.5v0.5h-0.5zM928.1,447.3h0.5v0.5h-0.5zM918.0,444.4h0.5v0.5h-0.5zM909.0,443.7h0.5v0.5h-0.5zM924.2,449.7h0.5v0.5h-0.5zM914.9,448.9h0.5v0.5h-0.5zM924.0,447.9h0.5v0.5h-0.5zM921.6,448.6h0.5v0.5h-0.5zM915.0,448.0h0.5v0.5h-0.5zM913.2,445.9h0.5v0.5h-0.5zM923.9,447.9h0.5v0.5h-0.5zM913.5,450.5h0.5v0.5h-0.5zM921.3,446.8h0.5v0.5h-0.5zM907.3,446.5h0.5v0.5h-0.5zM912.5,447.7h0.5v0.5h-0.5zM917.2,449.2h0.5v0.5h-0.5zM921.2,449.0h0.5v0.5h-0.5zM914.7,447.4h0.5v0.5h-0.5zM923.2,449.3h0.5v0.5h-0.5zM914.7,449.4h0.5v0.5h-0.5zM926.1,447.9h0.5v0.5h-0.5zM928.5,450.6h0.5v0.5h-0.5zM918.4,446.3h0.5v0.5h-0.5zM910.7,449.4h0.5v0.5h-0.5zM927.6,445.8h0.5v0.5h-0.5zM922.2,448.2h0.5v0.5h-0.5zM923.1,442.7h0.5v0.5h-0.5zM924.2,446.8h0.5v0.5h-0.5zM921.6,445.2h0.5v0.5h-0.5zM920.7,448.7h0.5v0.5h-0.5zM921.0,448.2h0.5v0.5h-0.5zM907.6,442.6h0.5v0.5h-0.5zM916.7,447.5h0.5v0.5h-0.5zM911.8,447.9h0.5v0.5h-0.5zM920.9,441.4h0.5v0.5h-0.5zM917.4,443.3h0.5v0.5h-0.5zM908.2,442.3h0.5v0.5h-0.5zM914.0,442.8h0.5v0.5h-0.5zM911.3,441.4h0.5v0.5h-0.5zM917.2,444.8h0.5v0.5h-0.5zM920.5,446.9h0.5v0.5h-0.5zM912.2,450.0h0.5v0.5h-0.5zM907.0,445.1h0.5v0.5h-0.5zM913.1,445.1h0.5v0.5h-0.5zM909.5,449.3h0.5v0.5h-0.5zM915.2,441.4h0.5v0.5h-0.5zM920.5,441.9h0.5v0.5h-0.5zM919.0,444.4h0.5v0.5h-0.5zM919.8,450.6h0.5v0.5h-0.5zM925.0,445.2h0.5v0.5h-0.5zM924.9,447.4h0.5v0.5h-0.5zM915.1,442.4h0.5v0.5h-0.5zM920.1,446.6h0.5v0.5h-0.5z" fill="#70b8f0" opacity="0.6"/>
<text x="906.8" y="436.3" font-size="3.3" font-weight="700" fill="#222" textLength="21.5" lengthAdjust="spacingAndGlyphs">hCD45+: 81.863%</text>
<text x="908" y="462" font-size="3.3" font-weight="700" fill="#222" textLength="20.5" lengthAdjust="spacingAndGlyphs">hCD45-: 16.135%</text>
<text x="995.8" y="424.7" font-size="4.0" font-weight="700" fill="#222" text-anchor="middle">hCD45+ - 266</text>
<rect x="972.6" y="429.2" width="44.5" height="41" fill="none" stroke="#c8c8c8" stroke-width="0.6"/>
<path d="M971.4,429.20h1.2M971.4,435.06h1.2M971.4,440.91h1.2M971.4,446.77h1.2M971.4,452.63h1.2M971.4,458.49h1.2M971.4,464.34h1.2M971.4,470.20h1.2M972.60,470.2v1.2M980.02,470.2v1.2M987.43,470.2v1.2M994.85,470.2v1.2M1002.27,470.2v1.2M1009.68,470.2v1.2M1017.10,470.2v1.2" stroke="#999" stroke-width="0.5"/>
<text x="995.8" y="477.1" font-size="3.6" font-weight="700" fill="#333" textLength="40" lengthAdjust="spacingAndGlyphs" text-anchor="middle">hCD3 - Pacific Blue™-H</text>
<text x="0" y="0" font-size="3.5" font-weight="700" fill="#333" text-anchor="middle" transform="translate(967 450) rotate(-90)" textLength="30" lengthAdjust="spacingAndGlyphs">hCD56 - PECy7</text>
<rect x="972.6" y="441.3" width="18.6" height="13.7" fill="none" stroke="#b8a0d8" stroke-width="0.7"/>
<rect x="991.2" y="454" width="25.3" height="16.2" fill="none" stroke="#e070e0" stroke-width="0.8"/>
<ellipse cx="994" cy="456.3" rx="5" ry="2.4" fill="url(#mg)" opacity="0.85"/>
<ellipse cx="988.5" cy="452" rx="1.5" ry="2.5" fill="#c0a0d0" opacity="0.5"/>
<text x="973.7" y="440.6" font-size="3.3" font-weight="700" fill="#222" textLength="15" lengthAdjust="spacingAndGlyphs">NK: 5.797%</text>
<text x="991.8" y="453.2" font-size="3.3" font-weight="700" fill="#222" textLength="14.5" lengthAdjust="spacingAndGlyphs">T: 89.480%</text>
<text x="1062.7" y="424.7" font-size="4.0" font-weight="700" fill="#222" text-anchor="middle">hCD45+ - 266</text>
<rect x="1040.6" y="429.2" width="43.80000000000018" height="41" fill="none" stroke="#c8c8c8" stroke-width="0.6"/>
<path d="M1039.3999999999999,429.20h1.2M1039.3999999999999,435.06h1.2M1039.3999999999999,440.91h1.2M1039.3999999999999,446.77h1.2M1039.3999999999999,452.63h1.2M1039.3999999999999,458.49h1.2M1039.3999999999999,464.34h1.2M1039.3999999999999,470.20h1.2M1040.60,470.2v1.2M1047.90,470.2v1.2M1055.20,470.2v1.2M1062.50,470.2v1.2M1069.80,470.2v1.2M1077.10,470.2v1.2M1084.40,470.2v1.2" stroke="#999" stroke-width="0.5"/>
<text x="1062.7" y="477.1" font-size="3.6" font-weight="700" fill="#333" textLength="40" lengthAdjust="spacingAndGlyphs" text-anchor="middle">hCD16 - Super Bright 702-A</text>
<text x="0" y="0" font-size="3.5" font-weight="700" fill="#333" text-anchor="middle" transform="translate(1035 450) rotate(-90)" textLength="30" lengthAdjust="spacingAndGlyphs">hCD56 - Super Bright 4</text>
<rect x="1040.6" y="436" width="21.2" height="16.2" fill="none" stroke="#f0d890" stroke-width="0.7"/>
<rect x="1061.8" y="452.2" width="22.6" height="18" fill="none" stroke="#a8c8a0" stroke-width="0.7"/>
<path d="M1046.0,461.8h0.5v0.5h-0.5zM1048.8,462.8h0.5v0.5h-0.5zM1054.1,453.6h0.5v0.5h-0.5zM1041.3,466.7h0.5v0.5h-0.5zM1046.4,456.5h0.5v0.5h-0.5zM1061.9,460.5h0.5v0.5h-0.5zM1058.6,460.6h0.5v0.5h-0.5zM1054.4,455.1h0.5v0.5h-0.5zM1054.3,467.3h0.5v0.5h-0.5zM1052.0,465.1h0.5v0.5h-0.5zM1055.1,453.6h0.5v0.5h-0.5zM1056.9,462.5h0.5v0.5h-0.5zM1047.3,453.0h0.5v0.5h-0.5zM1059.2,460.5h0.5v0.5h-0.5zM1056.1,467.4h0.5v0.5h-0.5zM1056.0,468.2h0.5v0.5h-0.5zM1049.3,466.1h0.5v0.5h-0.5zM1050.3,468.4h0.5v0.5h-0.5zM1059.5,454.2h0.5v0.5h-0.5zM1043.9,456.2h0.5v0.5h-0.5zM1061.3,459.9h0.5v0.5h-0.5zM1054.2,457.6h0.5v0.5h-0.5zM1051.7,459.1h0.5v0.5h-0.5zM1048.4,462.4h0.5v0.5h-0.5zM1053.3,467.9h0.5v0.5h-0.5zM1055.3,468.3h0.5v0.5h-0.5zM1059.0,469.3h0.5v0.5h-0.5zM1055.1,455.3h0.5v0.5h-0.5zM1059.1,468.9h0.5v0.5h-0.5zM1060.0,462.2h0.5v0.5h-0.5zM1056.0,456.1h0.5v0.5h-0.5zM1058.5,462.3h0.5v0.5h-0.5zM1047.0,453.6h0.5v0.5h-0.5zM1058.9,469.3h0.5v0.5h-0.5zM1042.9,466.1h0.5v0.5h-0.5zM1049.6,455.1h0.5v0.5h-0.5zM1047.2,465.6h0.5v0.5h-0.5zM1059.3,453.3h0.5v0.5h-0.5zM1053.9,453.3h0.5v0.5h-0.5zM1056.1,458.1h0.5v0.5h-0.5zM1059.5,469.2h0.5v0.5h-0.5zM1051.6,469.5h0.5v0.5h-0.5zM1047.5,453.8h0.5v0.5h-0.5zM1053.6,453.0h0.5v0.5h-0.5zM1045.1,459.4h0.5v0.5h-0.5zM1053.8,455.2h0.5v0.5h-0.5zM1041.9,467.3h0.5v0.5h-0.5zM1047.6,468.8h0.5v0.5h-0.5zM1059.8,458.9h0.5v0.5h-0.5zM1050.7,461.3h0.5v0.5h-0.5zM1054.5,462.6h0.5v0.5h-0.5zM1052.7,463.0h0.5v0.5h-0.5zM1060.8,461.1h0.5v0.5h-0.5zM1050.1,464.7h0.5v0.5h-0.5zM1046.0,457.6h0.5v0.5h-0.5zM1061.5,461.4h0.5v0.5h-0.5zM1052.5,452.7h0.5v0.5h-0.5zM1049.7,462.4h0.5v0.5h-0.5zM1041.4,463.0h0.5v0.5h-0.5zM1054.3,453.5h0.5v0.5h-0.5zM1054.2,460.4h0.5v0.5h-0.5zM1055.3,458.5h0.5v0.5h-0.5zM1055.8,465.0h0.5v0.5h-0.5zM1041.5,453.5h0.5v0.5h-0.5zM1055.2,468.9h0.5v0.5h-0.5zM1046.3,460.3h0.5v0.5h-0.5zM1053.4,457.9h0.5v0.5h-0.5zM1048.6,457.8h0.5v0.5h-0.5zM1048.8,462.6h0.5v0.5h-0.5zM1047.3,458.9h0.5v0.5h-0.5zM1057.2,453.0h0.5v0.5h-0.5zM1053.0,465.0h0.5v0.5h-0.5zM1047.5,456.3h0.5v0.5h-0.5zM1057.9,456.6h0.5v0.5h-0.5zM1044.9,459.9h0.5v0.5h-0.5zM1055.7,454.2h0.5v0.5h-0.5zM1047.8,458.2h0.5v0.5h-0.5zM1058.5,460.0h0.5v0.5h-0.5zM1059.0,455.4h0.5v0.5h-0.5zM1048.1,463.6h0.5v0.5h-0.5zM1059.6,460.2h0.5v0.5h-0.5zM1045.7,454.6h0.5v0.5h-0.5zM1052.1,455.7h0.5v0.5h-0.5zM1057.9,466.8h0.5v0.5h-0.5zM1044.9,457.2h0.5v0.5h-0.5zM1058.0,463.4h0.5v0.5h-0.5zM1057.9,458.4h0.5v0.5h-0.5zM1043.7,457.5h0.5v0.5h-0.5zM1057.7,457.1h0.5v0.5h-0.5zM1048.3,459.6h0.5v0.5h-0.5zM1049.8,459.5h0.5v0.5h-0.5zM1060.3,455.2h0.5v0.5h-0.5zM1041.1,468.5h0.5v0.5h-0.5zM1059.5,469.3h0.5v0.5h-0.5zM1050.1,468.7h0.5v0.5h-0.5zM1060.5,456.3h0.5v0.5h-0.5zM1056.7,466.7h0.5v0.5h-0.5zM1054.9,461.3h0.5v0.5h-0.5zM1047.1,458.3h0.5v0.5h-0.5zM1045.8,453.7h0.5v0.5h-0.5zM1053.4,457.4h0.5v0.5h-0.5zM1058.0,453.3h0.5v0.5h-0.5zM1060.0,464.3h0.5v0.5h-0.5zM1060.4,467.7h0.5v0.5h-0.5zM1059.9,462.3h0.5v0.5h-0.5zM1041.3,465.2h0.5v0.5h-0.5zM1044.6,457.6h0.5v0.5h-0.5zM1054.9,461.4h0.5v0.5h-0.5zM1049.7,468.5h0.5v0.5h-0.5zM1053.9,458.3h0.5v0.5h-0.5zM1046.3,467.1h0.5v0.5h-0.5zM1051.0,465.8h0.5v0.5h-0.5zM1048.4,455.9h0.5v0.5h-0.5zM1052.2,466.4h0.5v0.5h-0.5zM1044.6,466.0h0.5v0.5h-0.5zM1060.4,466.2h0.5v0.5h-0.5zM1058.3,452.6h0.5v0.5h-0.5zM1054.2,467.2h0.5v0.5h-0.5zM1042.0,457.1h0.5v0.5h-0.5zM1046.6,461.5h0.5v0.5h-0.5zM1049.9,460.5h0.5v0.5h-0.5zM1057.3,452.5h0.5v0.5h-0.5zM1042.2,454.7h0.5v0.5h-0.5zM1043.6,453.7h0.5v0.5h-0.5zM1061.5,467.0h0.5v0.5h-0.5zM1042.8,461.0h0.5v0.5h-0.5zM1047.6,457.8h0.5v0.5h-0.5zM1048.4,463.5h0.5v0.5h-0.5zM1053.3,458.6h0.5v0.5h-0.5zM1045.0,458.1h0.5v0.5h-0.5zM1043.6,461.9h0.5v0.5h-0.5zM1056.0,459.0h0.5v0.5h-0.5zM1042.7,455.5h0.5v0.5h-0.5zM1048.8,462.8h0.5v0.5h-0.5zM1057.4,459.0h0.5v0.5h-0.5zM1057.8,463.1h0.5v0.5h-0.5zM1050.1,458.8h0.5v0.5h-0.5zM1051.4,464.4h0.5v0.5h-0.5zM1049.8,464.3h0.5v0.5h-0.5zM1050.7,456.7h0.5v0.5h-0.5zM1052.3,464.3h0.5v0.5h-0.5zM1042.5,459.7h0.5v0.5h-0.5zM1049.9,467.5h0.5v0.5h-0.5zM1060.7,458.9h0.5v0.5h-0.5zM1059.9,465.9h0.5v0.5h-0.5zM1046.5,460.4h0.5v0.5h-0.5zM1043.6,466.3h0.5v0.5h-0.5zM1054.9,467.6h0.5v0.5h-0.5zM1057.6,463.8h0.5v0.5h-0.5zM1056.4,462.1h0.5v0.5h-0.5zM1064.1,462.4h0.5v0.5h-0.5zM1062.1,455.3h0.5v0.5h-0.5zM1077.5,453.7h0.5v0.5h-0.5zM1063.8,454.6h0.5v0.5h-0.5zM1079.6,455.9h0.5v0.5h-0.5zM1062.5,466.5h0.5v0.5h-0.5zM1064.4,466.5h0.5v0.5h-0.5zM1075.5,466.4h0.5v0.5h-0.5zM1081.0,462.3h0.5v0.5h-0.5zM1078.0,453.6h0.5v0.5h-0.5zM1077.3,461.2h0.5v0.5h-0.5zM1076.3,454.7h0.5v0.5h-0.5zM1077.0,468.0h0.5v0.5h-0.5zM1063.2,458.2h0.5v0.5h-0.5zM1073.3,466.2h0.5v0.5h-0.5zM1066.8,455.9h0.5v0.5h-0.5zM1067.0,462.9h0.5v0.5h-0.5zM1077.1,459.3h0.5v0.5h-0.5zM1069.3,459.3h0.5v0.5h-0.5zM1069.0,459.7h0.5v0.5h-0.5zM1063.7,461.0h0.5v0.5h-0.5zM1081.5,459.6h0.5v0.5h-0.5zM1076.9,455.6h0.5v0.5h-0.5zM1075.8,465.1h0.5v0.5h-0.5zM1075.5,461.3h0.5v0.5h-0.5z" fill="#777"/>
<ellipse cx="1056.3" cy="456.5" rx="4" ry="3" fill="#8a5a50" opacity="0.7"/>
<text x="1041.7" y="436.1" font-size="3.3" font-weight="700" fill="#222" textLength="19" lengthAdjust="spacingAndGlyphs">hCD16+: 1.673%</text>
<text x="1061.2" y="451.3" font-size="3.3" font-weight="700" fill="#222" textLength="19" lengthAdjust="spacingAndGlyphs">hCD16+: 5.862%</text>
<text x="906.6" y="754.6" font-size="4.1" font-weight="700" fill="#222" textLength="20.7" lengthAdjust="spacingAndGlyphs" text-anchor="middle">Leukocytes</text>
<path d="M877.5,759.9V799.1H935.7" fill="none" stroke="#555" stroke-width="0.7"/>
<path d="M875.7,799.10H877.5M875.7,791.26H877.5M875.7,783.42H877.5M875.7,775.58H877.5M875.7,767.74H877.5M875.7,759.90H877.5M880.80,799.1v1.3M886.50,799.1v1.3M892.20,799.1v1.3M897.90,799.1v1.3M903.60,799.1v1.3M909.30,799.1v1.3M915.00,799.1v1.3M920.70,799.1v1.3M926.40,799.1v1.3M932.10,799.1v1.3" stroke="#222" stroke-width="0.6"/>
<text x="875.2" y="800.4" font-size="3.3" fill="#333" text-anchor="end">0</text>
<text x="875.2" y="792.56" font-size="3.3" fill="#333" text-anchor="end">20</text>
<text x="875.2" y="784.7199999999999" font-size="3.3" fill="#333" text-anchor="end">40</text>
<text x="875.2" y="776.88" font-size="3.3" fill="#333" text-anchor="end">60</text>
<text x="875.2" y="769.04" font-size="3.3" fill="#333" text-anchor="end">80</text>
<text x="875.2" y="761.1999999999999" font-size="3.3" fill="#333" text-anchor="end">100</text>
<text x="880.8" y="803" font-size="3.4" fill="#333" text-anchor="middle">6</text>
<text x="886.5" y="803" font-size="3.4" fill="#333" text-anchor="middle">8</text>
<text x="892.1999999999999" y="803" font-size="3.4" fill="#333" text-anchor="middle">10</text>
<text x="897.9" y="803" font-size="3.4" fill="#333" text-anchor="middle">12</text>
<text x="903.6" y="803" font-size="3.4" fill="#333" text-anchor="middle">14</text>
<text x="909.3" y="803" font-size="3.4" fill="#333" text-anchor="middle">16</text>
<text x="915.0" y="803" font-size="3.4" fill="#333" text-anchor="middle">18</text>
<text x="920.7" y="803" font-size="3.4" fill="#333" text-anchor="middle">20</text>
<text x="926.4" y="803" font-size="3.4" fill="#333" text-anchor="middle">22</text>
<text x="932.1" y="803" font-size="3.4" fill="#333" text-anchor="middle">24</text>
<text x="906.6" y="809.1" font-size="4.1" fill="#333" textLength="38" lengthAdjust="spacingAndGlyphs" text-anchor="middle">Weeks post engraftment</text>
<text x="0" y="0" font-size="3.8" fill="#333" text-anchor="middle" transform="translate(869.0 779.5) rotate(-90)" textLength="27.3" lengthAdjust="spacingAndGlyphs">hCD45+ cells (%)</text>
<path d="M877.5,789.6H935.7" stroke="#333" stroke-width="0.7" stroke-dasharray="1.3,1.3"/>
<polyline points="880.80,782.80 886.50,782.44 892.20,782.80 897.90,781.25 903.60,784.82 909.30,782.09 915.00,778.52 920.70,782.44 926.40,790.17 932.10,790.17" fill="none" stroke="#e8604c" stroke-width="0.65"/>
<polyline points="880.80,780.66 886.50,778.28 892.20,784.23 897.90,781.85 903.60,782.80 909.30,782.09 915.00,781.25 920.70,781.85 926.40,783.27 932.10,786.01" fill="none" stroke="#2f3fe0" stroke-width="0.65"/>
<path d="M880.80,780.80V784.80M886.50,780.44V784.44M892.20,780.80V784.80M897.90,779.25V783.25M903.60,782.82V786.82M909.30,780.09V784.09M915.00,776.52V780.52M920.70,780.44V784.44M926.40,788.17V792.17M932.10,788.17V792.17" stroke="#f0a094" stroke-width="0.6"/><path d="M880.80,778.46V782.86M886.50,776.08V780.48M892.20,782.03V786.43M897.90,779.65V784.05M903.60,780.60V785.00M909.30,779.89V784.29M915.00,779.05V783.45M920.70,779.65V784.05M926.40,781.07V785.47M932.10,783.81V788.21" stroke="#8f96f0" stroke-width="0.6"/>
<circle cx="880.80" cy="782.80" r="0.9" fill="#e8604c"/>
<circle cx="886.50" cy="782.44" r="0.9" fill="#e8604c"/>
<circle cx="892.20" cy="782.80" r="0.9" fill="#e8604c"/>
<circle cx="897.90" cy="781.25" r="0.9" fill="#e8604c"/>
<circle cx="903.60" cy="784.82" r="0.9" fill="#e8604c"/>
<circle cx="909.30" cy="782.09" r="0.9" fill="#e8604c"/>
<circle cx="915.00" cy="778.52" r="0.9" fill="#e8604c"/>
<circle cx="920.70" cy="782.44" r="0.9" fill="#e8604c"/>
<circle cx="926.40" cy="790.17" r="0.9" fill="#e8604c"/>
<circle cx="932.10" cy="790.17" r="0.9" fill="#e8604c"/>
<path d="M879.70,781.46h2.2l-1.1,-2z" fill="#2f3fe0"/>
<path d="M885.40,779.08h2.2l-1.1,-2z" fill="#2f3fe0"/>
<path d="M891.10,785.03h2.2l-1.1,-2z" fill="#2f3fe0"/>
<path d="M896.80,782.65h2.2l-1.1,-2z" fill="#2f3fe0"/>
<path d="M902.50,783.60h2.2l-1.1,-2z" fill="#2f3fe0"/>
<path d="M908.20,782.89h2.2l-1.1,-2z" fill="#2f3fe0"/>
<path d="M913.90,782.05h2.2l-1.1,-2z" fill="#2f3fe0"/>
<path d="M919.60,782.65h2.2l-1.1,-2z" fill="#2f3fe0"/>
<path d="M925.30,784.07h2.2l-1.1,-2z" fill="#2f3fe0"/>
<path d="M931.00,786.81h2.2l-1.1,-2z" fill="#2f3fe0"/>
<text x="906.6" y="825.4" font-size="4.3" font-weight="700" fill="#222" text-anchor="middle">T cells</text>
<text x="1004.2" y="754.6" font-size="4.1" font-weight="700" fill="#222" textLength="12.5" lengthAdjust="spacingAndGlyphs" text-anchor="middle">B cells</text>
<path d="M974.4,759.9V799.1H1032.9" fill="none" stroke="#555" stroke-width="0.7"/>
<path d="M972.6,799.10H974.4M972.6,791.26H974.4M972.6,783.42H974.4M972.6,775.58H974.4M972.6,767.74H974.4M972.6,759.90H974.4M978.30,799.1v1.3M983.93,799.1v1.3M989.57,799.1v1.3M995.20,799.1v1.3M1000.83,799.1v1.3M1006.47,799.1v1.3M1012.10,799.1v1.3M1017.73,799.1v1.3M1023.37,799.1v1.3M1029.00,799.1v1.3" stroke="#222" stroke-width="0.6"/>
<text x="972.1" y="800.4" font-size="3.3" fill="#333" text-anchor="end">0</text>
<text x="972.1" y="792.56" font-size="3.3" fill="#333" text-anchor="end">20</text>
<text x="972.1" y="784.7199999999999" font-size="3.3" fill="#333" text-anchor="end">40</text>
<text x="972.1" y="776.88" font-size="3.3" fill="#333" text-anchor="end">60</text>
<text x="972.1" y="769.04" font-size="3.3" fill="#333" text-anchor="end">80</text>
<text x="972.1" y="761.1999999999999" font-size="3.3" fill="#333" text-anchor="end">100</text>
<text x="978.3" y="803" font-size="3.4" fill="#333" text-anchor="middle">6</text>
<text x="983.9333333333333" y="803" font-size="3.4" fill="#333" text-anchor="middle">8</text>
<text x="989.5666666666666" y="803" font-size="3.4" fill="#333" text-anchor="middle">10</text>
<text x="995.1999999999999" y="803" font-size="3.4" fill="#333" text-anchor="middle">12</text>
<text x="1000.8333333333333" y="803" font-size="3.4" fill="#333" text-anchor="middle">14</text>
<text x="1006.4666666666667" y="803" font-size="3.4" fill="#333" text-anchor="middle">16</text>
<text x="1012.1" y="803" font-size="3.4" fill="#333" text-anchor="middle">18</text>
<text x="1017.7333333333333" y="803" font-size="3.4" fill="#333" text-anchor="middle">20</text>
<text x="1023.3666666666667" y="803" font-size="3.4" fill="#333" text-anchor="middle">22</text>
<text x="1029.0" y="803" font-size="3.4" fill="#333" text-anchor="middle">24</text>
<text x="1004.2" y="809.1" font-size="4.1" fill="#333" textLength="38" lengthAdjust="spacingAndGlyphs" text-anchor="middle">Weeks post engraftment</text>
<text x="0" y="0" font-size="3.8" fill="#333" text-anchor="middle" transform="translate(961.0 779.5) rotate(-90)" textLength="22" lengthAdjust="spacingAndGlyphs">hCD19+ cells</text>
<text x="0" y="0" font-size="3.8" fill="#333" text-anchor="middle" transform="translate(965.5 779.5) rotate(-90)" textLength="22" lengthAdjust="spacingAndGlyphs">(% of hCD45+)</text>
<polyline points="978.30,777.56 983.93,777.09 989.57,773.68 995.20,773.22 1000.83,779.88 1006.47,781.90 1012.10,784.53 1017.73,784.53 1023.37,780.97 1029.00,784.07" fill="none" stroke="#e8604c" stroke-width="0.65"/>
<polyline points="978.30,772.91 983.93,769.03 989.57,770.58 995.20,772.91 1000.83,776.78 1006.47,780.35 1012.10,784.53 1017.73,788.41 1023.37,788.72 1029.00,786.55" fill="none" stroke="#2f3fe0" stroke-width="0.65"/>
<path d="M978.30,775.56V779.56M983.93,775.09V779.09M989.57,771.68V775.68M995.20,771.22V775.22M1000.83,777.88V781.88M1006.47,779.90V783.90M1012.10,782.53V786.53M1017.73,782.53V786.53M1023.37,778.97V782.97M1029.00,782.07V786.07" stroke="#f0a094" stroke-width="0.6"/><path d="M978.30,770.71V775.11M983.93,766.83V771.23M989.57,768.38V772.78M995.20,770.71V775.11M1000.83,774.58V778.98M1006.47,778.15V782.55M1012.10,782.33V786.73M1017.73,786.21V790.61M1023.37,786.52V790.92M1029.00,784.35V788.75" stroke="#8f96f0" stroke-width="0.6"/>
<circle cx="978.30" cy="777.56" r="0.9" fill="#e8604c"/>
<circle cx="983.93" cy="777.09" r="0.9" fill="#e8604c"/>
<circle cx="989.57" cy="773.68" r="0.9" fill="#e8604c"/>
<circle cx="995.20" cy="773.22" r="0.9" fill="#e8604c"/>
<circle cx="1000.83" cy="779.88" r="0.9" fill="#e8604c"/>
<circle cx="1006.47" cy="781.90" r="0.9" fill="#e8604c"/>
<circle cx="1012.10" cy="784.53" r="0.9" fill="#e8604c"/>
<circle cx="1017.73" cy="784.53" r="0.9" fill="#e8604c"/>
<circle cx="1023.37" cy="780.97" r="0.9" fill="#e8604c"/>
<circle cx="1029.00" cy="784.07" r="0.9" fill="#e8604c"/>
<path d="M977.20,773.71h2.2l-1.1,-2z" fill="#2f3fe0"/>
<path d="M982.83,769.83h2.2l-1.1,-2z" fill="#2f3fe0"/>
<path d="M988.47,771.38h2.2l-1.1,-2z" fill="#2f3fe0"/>
<path d="M994.10,773.71h2.2l-1.1,-2z" fill="#2f3fe0"/>
<path d="M999.73,777.58h2.2l-1.1,-2z" fill="#2f3fe0"/>
<path d="M1005.37,781.15h2.2l-1.1,-2z" fill="#2f3fe0"/>
<path d="M1011.00,785.33h2.2l-1.1,-2z" fill="#2f3fe0"/>
<path d="M1016.63,789.21h2.2l-1.1,-2z" fill="#2f3fe0"/>
<path d="M1022.27,789.52h2.2l-1.1,-2z" fill="#2f3fe0"/>
<path d="M1027.90,787.35h2.2l-1.1,-2z" fill="#2f3fe0"/>
<text x="1004.2" y="825.4" font-size="4.3" font-weight="700" fill="#222" text-anchor="middle">CD4+ T cells</text>
<text x="1097.2" y="754.6" font-size="4.1" font-weight="700" fill="#222" textLength="17" lengthAdjust="spacingAndGlyphs" text-anchor="middle">NK  cells</text>
<path d="M1067,759.9V799.1H1126.7" fill="none" stroke="#555" stroke-width="0.7"/>
<path d="M1065.2,799.10H1067M1065.2,791.26H1067M1065.2,783.42H1067M1065.2,775.58H1067M1065.2,767.74H1067M1065.2,759.90H1067M1071.30,799.1v1.3M1076.99,799.1v1.3M1082.68,799.1v1.3M1088.37,799.1v1.3M1094.06,799.1v1.3M1099.74,799.1v1.3M1105.43,799.1v1.3M1111.12,799.1v1.3M1116.81,799.1v1.3M1122.50,799.1v1.3" stroke="#222" stroke-width="0.6"/>
<text x="1064.7" y="800.4" font-size="3.3" fill="#333" text-anchor="end">0</text>
<text x="1064.7" y="792.56" font-size="3.3" fill="#333" text-anchor="end">20</text>
<text x="1064.7" y="784.7199999999999" font-size="3.3" fill="#333" text-anchor="end">40</text>
<text x="1064.7" y="776.88" font-size="3.3" fill="#333" text-anchor="end">60</text>
<text x="1064.7" y="769.04" font-size="3.3" fill="#333" text-anchor="end">80</text>
<text x="1064.7" y="761.1999999999999" font-size="3.3" fill="#333" text-anchor="end">100</text>
<text x="1071.3" y="803" font-size="3.4" fill="#333" text-anchor="middle">6</text>
<text x="1076.9888888888888" y="803" font-size="3.4" fill="#333" text-anchor="middle">8</text>
<text x="1082.6777777777777" y="803" font-size="3.4" fill="#333" text-anchor="middle">10</text>
<text x="1088.3666666666666" y="803" font-size="3.4" fill="#333" text-anchor="middle">12</text>
<text x="1094.0555555555554" y="803" font-size="3.4" fill="#333" text-anchor="middle">14</text>
<text x="1099.7444444444445" y="803" font-size="3.4" fill="#333" text-anchor="middle">16</text>
<text x="1105.4333333333334" y="803" font-size="3.4" fill="#333" text-anchor="middle">18</text>
<text x="1111.1222222222223" y="803" font-size="3.4" fill="#333" text-anchor="middle">20</text>
<text x="1116.8111111111111" y="803" font-size="3.4" fill="#333" text-anchor="middle">22</text>
<text x="1122.5" y="803" font-size="3.4" fill="#333" text-anchor="middle">24</text>
<text x="1097.2" y="809.1" font-size="4.1" fill="#333" textLength="38" lengthAdjust="spacingAndGlyphs" text-anchor="middle">Weeks post engraftment</text>
<text x="0" y="0" font-size="3.8" fill="#333" text-anchor="middle" transform="translate(1054.0 779.5) rotate(-90)" textLength="22" lengthAdjust="spacingAndGlyphs">hCD56+ cells</text>
<text x="0" y="0" font-size="3.8" fill="#333" text-anchor="middle" transform="translate(1058.5 779.5) rotate(-90)" textLength="22" lengthAdjust="spacingAndGlyphs">(% of hCD45+)</text>
<polyline points="1071.30,786.09 1076.99,786.55 1082.68,789.65 1088.37,790.27 1094.06,789.19 1099.74,791.82 1105.43,790.27 1111.12,790.27 1116.81,790.74 1122.50,788.10" fill="none" stroke="#e8604c" stroke-width="0.65"/>
<polyline points="1071.30,791.20 1076.99,793.84 1082.68,791.51 1088.37,791.51 1094.06,791.20 1099.74,792.75 1105.43,791.51 1111.12,791.20 1116.81,792.29 1122.50,791.20" fill="none" stroke="#2f3fe0" stroke-width="0.65"/>
<path d="M1071.30,784.09V788.09M1076.99,784.55V788.55M1082.68,787.65V791.65M1088.37,788.27V792.27M1094.06,787.19V791.19M1099.74,789.82V793.82M1105.43,788.27V792.27M1111.12,788.27V792.27M1116.81,788.74V792.74M1122.50,786.10V790.10" stroke="#f0a094" stroke-width="0.6"/><path d="M1071.30,789.00V793.40M1076.99,791.64V796.04M1082.68,789.31V793.71M1088.37,789.31V793.71M1094.06,789.00V793.40M1099.74,790.55V794.95M1105.43,789.31V793.71M1111.12,789.00V793.40M1116.81,790.09V794.49M1122.50,789.00V793.40" stroke="#8f96f0" stroke-width="0.6"/>
<circle cx="1071.30" cy="786.09" r="0.9" fill="#e8604c"/>
<circle cx="1076.99" cy="786.55" r="0.9" fill="#e8604c"/>
<circle cx="1082.68" cy="789.65" r="0.9" fill="#e8604c"/>
<circle cx="1088.37" cy="790.27" r="0.9" fill="#e8604c"/>
<circle cx="1094.06" cy="789.19" r="0.9" fill="#e8604c"/>
<circle cx="1099.74" cy="791.82" r="0.9" fill="#e8604c"/>
<circle cx="1105.43" cy="790.27" r="0.9" fill="#e8604c"/>
<circle cx="1111.12" cy="790.27" r="0.9" fill="#e8604c"/>
<circle cx="1116.81" cy="790.74" r="0.9" fill="#e8604c"/>
<circle cx="1122.50" cy="788.10" r="0.9" fill="#e8604c"/>
<path d="M1070.20,792.00h2.2l-1.1,-2z" fill="#2f3fe0"/>
<path d="M1075.89,794.64h2.2l-1.1,-2z" fill="#2f3fe0"/>
<path d="M1081.58,792.31h2.2l-1.1,-2z" fill="#2f3fe0"/>
<path d="M1087.27,792.31h2.2l-1.1,-2z" fill="#2f3fe0"/>
<path d="M1092.96,792.00h2.2l-1.1,-2z" fill="#2f3fe0"/>
<path d="M1098.64,793.55h2.2l-1.1,-2z" fill="#2f3fe0"/>
<path d="M1104.33,792.31h2.2l-1.1,-2z" fill="#2f3fe0"/>
<path d="M1110.02,792.00h2.2l-1.1,-2z" fill="#2f3fe0"/>
<path d="M1115.71,793.09h2.2l-1.1,-2z" fill="#2f3fe0"/>
<path d="M1121.40,792.00h2.2l-1.1,-2z" fill="#2f3fe0"/>
<text x="1098.4" y="825.4" font-size="4.3" font-weight="700" fill="#222" text-anchor="middle">CD8+ T cells</text>
<path d="M1068.5,760.5h6" stroke-width="0.8" stroke="#2f3fe0"/><path d="M1068.5,765.9h6" stroke-width="0.8" stroke="#e8604c"/><path d="M1070.4,761.3h2.2l-1.1,-2z" fill="#2f3fe0"/><circle cx="1071.5" cy="765.9" r="0.9" fill="#e8604c"/>
<text x="1076" y="761.8" font-size="3.6" fill="#333" textLength="18.9" lengthAdjust="spacingAndGlyphs">B-NDG hIL15</text>
<text x="1076" y="767.2" font-size="3.6" fill="#333" textLength="32.8" lengthAdjust="spacingAndGlyphs">B-NDG B2m plus/hIL15</text>
<rect x="294.3" y="643.5" width="151.9" height="109" fill="#fff" stroke="#b8c6e8" stroke-width="1"/>
<rect x="460.9" y="643.5" width="104.1" height="109" fill="#fff" stroke="#b8c6e8" stroke-width="1"/>
<path d="M295,728.4 Q330.0,718 365,728.4 V752 H295 Z" fill="#e9eef9"/>
<path d="M295,726.2 Q330.0,715.8 365,726.2 M295,728.6 Q330.0,718.2 365,728.6" fill="none" stroke="#9fbbe6" stroke-width="0.75"/>
<path d="M370.4,728.4 Q405.9,718 441.4,728.4 V752 H370.4 Z" fill="#e9eef9"/>
<path d="M370.4,726.2 Q405.9,715.8 441.4,726.2 M370.4,728.6 Q405.9,718.2 441.4,728.6" fill="none" stroke="#9fbbe6" stroke-width="0.75"/>
<path d="M489.2,728.4 Q524.35,718 559.5,728.4 V752 H489.2 Z" fill="#e9eef9"/>
<path d="M489.2,726.2 Q524.35,715.8 559.5,726.2 M489.2,728.6 Q524.35,718.2 559.5,728.6" fill="none" stroke="#9fbbe6" stroke-width="0.75"/>
<g transform="translate(312 641.5) scale(1.0000)"><path d="M43.4,17.4 C47,19 51,21 50.6,24 C50,27 44,27 38.6,26.5 C33,26 28,25.5 25.1,25.1" fill="none" stroke="#d99a98" stroke-width="1.1"/><path d="M4.8,11.1 C7,8 11,6 14.5,4.8 C17,4.2 19,6 21.7,6.8 C26,6 31,6 35,8 C39,10 42,13 43.4,15.9 C43.5,18.5 42,20.3 39.6,20.8 C35,21 31,19 28.9,18.6 C25,19 22,19.8 20.3,19.6 C17,19 15,16.5 14,15.6 C11,14.5 7,13.5 4.8,11.1 Z" fill="#e7e3e0"/><path d="M31,7.5 C37,9 42,12.5 43.4,15.9 C43.5,18.5 42,20.3 39.6,20.8 C36,20.5 33,19.5 31,18.8 C34,15 34,10 31,7.5 Z" fill="#d8d2cd"/><ellipse cx="17.6" cy="8.7" rx="1.9" ry="2.2" fill="#e2b3b3"/><circle cx="10.6" cy="9.9" r="0.7" fill="#b05050"/><path d="M10.6,21.5 C12,20 15,19.5 17.4,19.8 L17,22.2 C15,22.5 12,22.7 10.6,21.5 Z M31.4,20.5 C35,20 38,20 40.5,20.5 L39.5,22.5 C36,22.7 33,22.7 31.4,21.8 Z" fill="#dca0a0"/></g>
<g transform="translate(458.3 641.5) scale(1.0470)"><path d="M43.4,17.4 C47,19 51,21 50.6,24 C50,27 44,27 38.6,26.5 C33,26 28,25.5 25.1,25.1" fill="none" stroke="#d99a98" stroke-width="1.1"/><path d="M4.8,11.1 C7,8 11,6 14.5,4.8 C17,4.2 19,6 21.7,6.8 C26,6 31,6 35,8 C39,10 42,13 43.4,15.9 C43.5,18.5 42,20.3 39.6,20.8 C35,21 31,19 28.9,18.6 C25,19 22,19.8 20.3,19.6 C17,19 15,16.5 14,15.6 C11,14.5 7,13.5 4.8,11.1 Z" fill="#e7e3e0"/><path d="M31,7.5 C37,9 42,12.5 43.4,15.9 C43.5,18.5 42,20.3 39.6,20.8 C36,20.5 33,19.5 31,18.8 C34,15 34,10 31,7.5 Z" fill="#d8d2cd"/><ellipse cx="17.6" cy="8.7" rx="1.9" ry="2.2" fill="#e2b3b3"/><circle cx="10.6" cy="9.9" r="0.7" fill="#b05050"/><path d="M10.6,21.5 C12,20 15,19.5 17.4,19.8 L17,22.2 C15,22.5 12,22.7 10.6,21.5 Z M31.4,20.5 C35,20 38,20 40.5,20.5 L39.5,22.5 C36,22.7 33,22.7 31.4,21.8 Z" fill="#dca0a0"/></g>
<g transform="translate(357.4 758) scale(1.0200)"><path d="M43.4,17.4 C47,19 51,21 50.6,24 C50,27 44,27 38.6,26.5 C33,26 28,25.5 25.1,25.1" fill="none" stroke="#d99a98" stroke-width="1.1"/><path d="M4.8,11.1 C7,8 11,6 14.5,4.8 C17,4.2 19,6 21.7,6.8 C26,6 31,6 35,8 C39,10 42,13 43.4,15.9 C43.5,18.5 42,20.3 39.6,20.8 C35,21 31,19 28.9,18.6 C25,19 22,19.8 20.3,19.6 C17,19 15,16.5 14,15.6 C11,14.5 7,13.5 4.8,11.1 Z" fill="#e7e3e0"/><path d="M31,7.5 C37,9 42,12.5 43.4,15.9 C43.5,18.5 42,20.3 39.6,20.8 C36,20.5 33,19.5 31,18.8 C34,15 34,10 31,7.5 Z" fill="#d8d2cd"/><ellipse cx="17.6" cy="8.7" rx="1.9" ry="2.2" fill="#e2b3b3"/><circle cx="10.6" cy="9.9" r="0.7" fill="#b05050"/><path d="M10.6,21.5 C12,20 15,19.5 17.4,19.8 L17,22.2 C15,22.5 12,22.7 10.6,21.5 Z M31.4,20.5 C35,20 38,20 40.5,20.5 L39.5,22.5 C36,22.7 33,22.7 31.4,21.8 Z" fill="#dca0a0"/></g>
<text x="395.5" y="655.1" font-size="5.0" fill="#333" textLength="63" lengthAdjust="spacingAndGlyphs" text-anchor="middle">B-NDG B2m KO mice plus</text>
<text x="395.5" y="661.5" font-size="5.0" font-weight="700" fill="#222" textLength="27" lengthAdjust="spacingAndGlyphs" text-anchor="middle">(MHC I KO)</text>
<path d="M324.5,709.7V735.4M392.9,709.3V735.4" stroke="#1d3d44" stroke-width="1.5"/>
<path d="M320.1,681 Q320.1,678.3 322.5,678.3 Q324.5,678.3 325.5,680.5 L326.5,685 Q327.5,687.5 329,687.5 V709.7 H320.1 Z" fill="#3a6ea6" stroke="#274a74" stroke-width="0.4"/>
<path d="M340,681 Q340,678.3 337.6,678.3 Q335.6,678.3 334.6,680.5 L333.6,685 Q332.6,687.5 330.9,687.5 V696.7 H340 Z" fill="#3a6ea6" stroke="#274a74" stroke-width="0.4"/>
<rect x="330.9" y="697.7" width="9.1" height="12" fill="#3a6ea6"/>
<circle cx="329.4" cy="682.9" r="4" fill="#f0c060" stroke="#f5d898" stroke-width="0.8"/>
<path d="M329.3,686.9 V697.2 H340" fill="none" stroke="#c8d0dc" stroke-width="0.5"/>
<path d="M329.2,699.2 L339.4,709.6 M339.4,699.2 L329.2,709.6" stroke="#a8403c" stroke-width="3.1"/>
<text x="329.9" y="744.5" font-size="7.4" font-weight="700" fill="#111" textLength="50.1" lengthAdjust="spacingAndGlyphs" text-anchor="middle">MHC I disabled</text>
<rect x="387.8" y="676.8" width="10.2" height="32.5" rx="2.4" fill="#4a8f48" stroke="#2f5230" stroke-width="0.6"/>
<rect x="398.7" y="676.8" width="9" height="18.9" rx="2.2" fill="#4a8f48" stroke="#2f5230" stroke-width="0.6"/>
<rect x="398.7" y="696.7" width="9" height="12.6" rx="2.2" fill="#3a6ea6" stroke="#274a74" stroke-width="0.6"/>
<path d="M411.6,702.4 L418.3,708.6 L427.4,698.9" fill="none" stroke="#447a48" stroke-width="3"/>
<text x="405.2" y="744.5" font-size="7.4" font-weight="700" fill="#111" textLength="37.2" lengthAdjust="spacingAndGlyphs" text-anchor="middle">FcRn intact</text>
<text x="453.4" y="690.5" font-size="8.2" fill="#111" textLength="6.2" lengthAdjust="spacingAndGlyphs" text-anchor="middle">X</text>
<text x="532.7" y="655.1" font-size="5.0" fill="#333" textLength="44.2" lengthAdjust="spacingAndGlyphs" text-anchor="middle">B-NDG hIL15 mice</text>
<text x="485.9" y="680" font-size="7.4" font-weight="700" fill="#111" textLength="42.4" lengthAdjust="spacingAndGlyphs">Human IL-15</text>
<circle cx="533.7" cy="668.4" r="3" fill="#8cc4ec"/>
<circle cx="546.4" cy="668.1" r="3" fill="#4a94d0"/>
<circle cx="554" cy="669.9" r="3" fill="#c8e2f4"/>
<circle cx="533.7" cy="677.9" r="3" fill="#4a94d0"/>
<circle cx="543.3" cy="676" r="3" fill="#2f78b8"/>
<circle cx="552.2" cy="677.1" r="3" fill="#8cc4ec"/>
<circle cx="536.6" cy="685.5" r="3" fill="#8cc4ec"/>
<circle cx="546.4" cy="685.1" r="3" fill="#4a94d0"/>
<path d="M509,703 C509,699 512,696.7 516,696.7 L519,696.7 C518.5,697.5 518.3,698.5 518.3,699.5 C518.3,703 521,705.5 524,705.5 L524,741.2 C523.2,741.2 522.5,735 521.5,728 L520.5,711 C516,710 509,708 509,703 Z" fill="#74c0c4"/>
<path d="M540.5,703 C540.5,699 537.5,696.7 533.5,696.7 L530.5,696.7 C531,697.5 531.2,698.5 531.2,699.5 C531.2,703 528.5,705.5 525.5,705.5 L525.5,733 C526.3,733 527,728 527.5,722 L529,711 C533.5,710 540.5,708 540.5,703 Z" fill="#4ea9ab"/>
<text x="422" y="766.7" font-size="5.4" font-weight="700" fill="#111" textLength="73.8" lengthAdjust="spacingAndGlyphs">B-NDG B2m plus/hIL-15 mice</text>
<circle cx="428.2" cy="771.3" r="0.8" fill="#222"/>
<text x="432.7" y="773.0" font-size="5.0" fill="#222" textLength="17.5" lengthAdjust="spacingAndGlyphs">No MHC1</text>
<circle cx="428.2" cy="777.7" r="0.8" fill="#222"/>
<text x="432.7" y="779.4" font-size="5.0" fill="#222" textLength="56" lengthAdjust="spacingAndGlyphs">Intact FcRn (IgG recycling)</text>
<circle cx="428.2" cy="784.1" r="0.8" fill="#222"/>
<text x="432.7" y="785.8" font-size="5.0" fill="#222" textLength="89" lengthAdjust="spacingAndGlyphs">Improved engraftment of human NK</text>
<text x="448.4" y="815.8" font-size="6.6" fill="#222" textLength="21.2" lengthAdjust="spacingAndGlyphs" text-anchor="middle">B-NDG</text>
<text x="522.6" y="815.8" font-size="6.6" fill="#222" textLength="69.4" lengthAdjust="spacingAndGlyphs" text-anchor="middle">B-NDG B2m plus/hIL15</text>
<rect x="422.2" y="820.7" width="52.2" height="20" fill="none" stroke="#999" stroke-width="0.7"/>
<rect x="492.8" y="820.7" width="52.9" height="20" fill="none" stroke="#999" stroke-width="0.7"/>
<rect x="454.9" y="822.2" width="19" height="18" fill="none" stroke="#888" stroke-width="0.6"/>
<rect x="527.3" y="822.2" width="17.2" height="18" fill="none" stroke="#888" stroke-width="0.6"/>
<ellipse cx="464" cy="826" rx="6" ry="3" fill="#b8b8e8" opacity="0.6"/>
<ellipse cx="512" cy="826" rx="9" ry="3" fill="#c8c8f0" opacity="0.5"/>
<path d="M418.5,823.5h3.5M489,823.5h3.5" stroke="#666" stroke-width="0.5"/>
<text x="418" y="824.5" font-size="2.8" font-weight="700" fill="#333" text-anchor="end">1.0E5</text>
<text x="488.5" y="824.5" font-size="2.8" font-weight="700" fill="#333" text-anchor="end">1.0E5</text>
</svg></body></html>
